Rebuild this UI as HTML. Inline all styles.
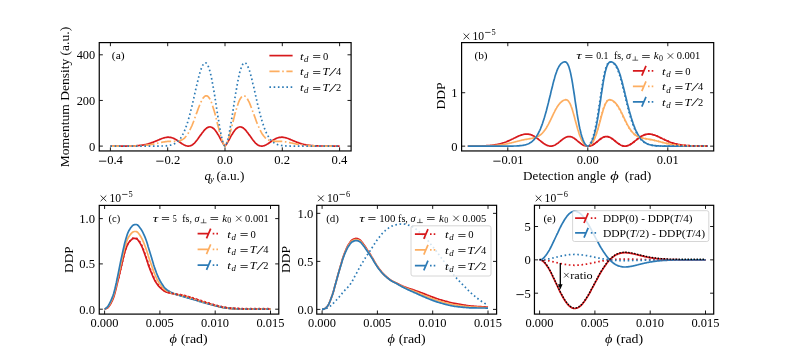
<!DOCTYPE html>
<html><head><meta charset="utf-8"><style>
html,body{margin:0;padding:0;background:#fff;width:793px;height:353px;overflow:hidden}
svg{display:block;will-change:transform}
text{font-family:"Liberation Serif",serif;fill:#000}
</style></head><body>
<svg width="793" height="353" viewBox="0 0 793 353">
<rect width="793" height="353" fill="#fff"/>
<clipPath id="ca"><rect x="99.25" y="42.6" width="251.85" height="108.35"/></clipPath>
<g clip-path="url(#ca)">
<path d="M110.4,146.1 L111.1,146.1 L111.8,146.1 L112.5,146.1 L113.3,146.1 L114.0,146.1 L114.7,146.1 L115.4,146.1 L116.1,146.1 L116.8,146.1 L117.6,146.1 L118.3,146.1 L119.0,146.1 L119.7,146.1 L120.4,146.1 L121.1,146.1 L121.9,146.1 L122.6,146.1 L123.3,146.1 L124.0,146.1 L124.7,146.1 L125.4,146.1 L126.2,146.1 L126.9,146.0 L127.6,146.0 L128.3,146.0 L129.0,146.0 L129.7,146.0 L130.5,146.0 L131.2,146.0 L131.9,145.9 L132.6,145.9 L133.3,145.9 L134.0,145.9 L134.8,145.8 L135.5,145.8 L136.2,145.8 L136.9,145.7 L137.6,145.6 L138.3,145.6 L139.0,145.5 L139.8,145.4 L140.5,145.4 L141.2,145.3 L141.9,145.2 L142.6,145.1 L143.3,145.0 L144.1,144.8 L144.8,144.7 L145.5,144.5 L146.2,144.4 L146.9,144.2 L147.6,144.0 L148.4,143.8 L149.1,143.6 L149.8,143.4 L150.5,143.1 L151.2,142.9 L151.9,142.6 L152.7,142.4 L153.4,142.1 L154.1,141.8 L154.8,141.5 L155.5,141.2 L156.2,140.9 L157.0,140.6 L157.7,140.3 L158.4,140.0 L159.1,139.7 L159.8,139.4 L160.5,139.1 L161.3,138.8 L162.0,138.5 L162.7,138.3 L163.4,138.0 L164.1,137.8 L164.8,137.7 L165.6,137.5 L166.3,137.4 L167.0,137.3 L167.7,137.2 L168.4,137.2 L169.1,137.3 L169.8,137.3 L170.6,137.4 L171.3,137.6 L172.0,137.8 L172.7,138.0 L173.4,138.3 L174.1,138.6 L174.9,139.0 L175.6,139.4 L176.3,139.8 L177.0,140.2 L177.7,140.7 L178.4,141.2 L179.2,141.7 L179.9,142.2 L180.6,142.7 L181.3,143.2 L182.0,143.7 L182.7,144.1 L183.5,144.6 L184.2,145.0 L184.9,145.3 L185.6,145.6 L186.3,145.8 L187.0,146.0 L187.8,146.1 L188.5,146.1 L189.2,146.0 L189.9,145.9 L190.6,145.7 L191.3,145.4 L192.1,145.0 L192.8,144.5 L193.5,143.9 L194.2,143.3 L194.9,142.6 L195.6,141.8 L196.3,140.9 L197.1,140.0 L197.8,139.1 L198.5,138.1 L199.2,137.1 L199.9,136.1 L200.6,135.1 L201.4,134.1 L202.1,133.1 L202.8,132.2 L203.5,131.2 L204.2,130.4 L204.9,129.6 L205.7,128.9 L206.4,128.3 L207.1,127.8 L207.8,127.4 L208.5,127.1 L209.2,127.0 L210.0,126.9 L210.7,127.0 L211.4,127.2 L212.1,127.5 L212.8,128.0 L213.5,128.5 L214.3,129.2 L215.0,130.0 L215.7,130.9 L216.4,131.9 L217.1,133.0 L217.8,134.2 L218.6,135.4 L219.3,136.7 L220.0,138.0 L220.7,139.3 L221.4,140.6 L222.1,141.9 L222.9,143.1 L223.6,144.3 L224.3,145.3 L225.0,146.1 L225.7,145.3 L226.4,144.3 L227.1,143.1 L227.9,141.9 L228.6,140.6 L229.3,139.3 L230.0,138.0 L230.7,136.7 L231.4,135.4 L232.2,134.2 L232.9,133.0 L233.6,131.9 L234.3,130.9 L235.0,130.0 L235.7,129.2 L236.5,128.5 L237.2,128.0 L237.9,127.5 L238.6,127.2 L239.3,127.0 L240.0,126.9 L240.8,127.0 L241.5,127.1 L242.2,127.4 L242.9,127.8 L243.6,128.3 L244.3,128.9 L245.1,129.6 L245.8,130.4 L246.5,131.2 L247.2,132.2 L247.9,133.1 L248.6,134.1 L249.4,135.1 L250.1,136.1 L250.8,137.1 L251.5,138.1 L252.2,139.1 L252.9,140.0 L253.7,140.9 L254.4,141.8 L255.1,142.6 L255.8,143.3 L256.5,143.9 L257.2,144.5 L257.9,145.0 L258.7,145.4 L259.4,145.7 L260.1,145.9 L260.8,146.0 L261.5,146.1 L262.2,146.1 L263.0,146.0 L263.7,145.8 L264.4,145.6 L265.1,145.3 L265.8,145.0 L266.5,144.6 L267.3,144.1 L268.0,143.7 L268.7,143.2 L269.4,142.7 L270.1,142.2 L270.8,141.7 L271.6,141.2 L272.3,140.7 L273.0,140.2 L273.7,139.8 L274.4,139.4 L275.1,139.0 L275.9,138.6 L276.6,138.3 L277.3,138.0 L278.0,137.8 L278.7,137.6 L279.4,137.4 L280.2,137.3 L280.9,137.3 L281.6,137.2 L282.3,137.2 L283.0,137.3 L283.7,137.4 L284.4,137.5 L285.2,137.7 L285.9,137.8 L286.6,138.0 L287.3,138.3 L288.0,138.5 L288.7,138.8 L289.5,139.1 L290.2,139.4 L290.9,139.7 L291.6,140.0 L292.3,140.3 L293.0,140.6 L293.8,140.9 L294.5,141.2 L295.2,141.5 L295.9,141.8 L296.6,142.1 L297.3,142.4 L298.1,142.6 L298.8,142.9 L299.5,143.1 L300.2,143.4 L300.9,143.6 L301.6,143.8 L302.4,144.0 L303.1,144.2 L303.8,144.4 L304.5,144.5 L305.2,144.7 L305.9,144.8 L306.7,145.0 L307.4,145.1 L308.1,145.2 L308.8,145.3 L309.5,145.4 L310.2,145.4 L311.0,145.5 L311.7,145.6 L312.4,145.6 L313.1,145.7 L313.8,145.8 L314.5,145.8 L315.2,145.8 L316.0,145.9 L316.7,145.9 L317.4,145.9 L318.1,145.9 L318.8,146.0 L319.5,146.0 L320.3,146.0 L321.0,146.0 L321.7,146.0 L322.4,146.0 L323.1,146.0 L323.8,146.1 L324.6,146.1 L325.3,146.1 L326.0,146.1 L326.7,146.1 L327.4,146.1 L328.1,146.1 L328.9,146.1 L329.6,146.1 L330.3,146.1 L331.0,146.1 L331.7,146.1 L332.4,146.1 L333.2,146.1 L333.9,146.1 L334.6,146.1 L335.3,146.1 L336.0,146.1 L336.7,146.1 L337.5,146.1 L338.2,146.1 L338.9,146.1 L339.6,146.1" fill="none" stroke="#d7191c" stroke-width="1.7" stroke-linejoin="round"/>
<path d="M110.4,146.1 L111.1,146.1 L111.8,146.1 L112.5,146.1 L113.3,146.1 L114.0,146.1 L114.7,146.1 L115.4,146.1 L116.1,146.1 L116.8,146.1 L117.6,146.1 L118.3,146.1 L119.0,146.1 L119.7,146.1 L120.4,146.1 L121.1,146.1 L121.9,146.1 L122.6,146.1 L123.3,146.1 L124.0,146.1 L124.7,146.1 L125.4,146.1 L126.2,146.1 L126.9,146.1 L127.6,146.1 L128.3,146.1 L129.0,146.1 L129.7,146.1 L130.5,146.0 L131.2,146.0 L131.9,146.0 L132.6,146.0 L133.3,146.0 L134.0,146.0 L134.8,146.0 L135.5,145.9 L136.2,145.9 L136.9,145.9 L137.6,145.9 L138.3,145.8 L139.0,145.8 L139.8,145.8 L140.5,145.7 L141.2,145.7 L141.9,145.6 L142.6,145.6 L143.3,145.5 L144.1,145.5 L144.8,145.4 L145.5,145.3 L146.2,145.2 L146.9,145.1 L147.6,145.1 L148.4,145.0 L149.1,144.9 L149.8,144.7 L150.5,144.6 L151.2,144.5 L151.9,144.4 L152.7,144.2 L153.4,144.1 L154.1,144.0 L154.8,143.8 L155.5,143.6 L156.2,143.5 L157.0,143.3 L157.7,143.2 L158.4,143.0 L159.1,142.9 L159.8,142.7 L160.5,142.6 L161.3,142.4 L162.0,142.3 L162.7,142.1 L163.4,142.0 L164.1,141.9 L164.8,141.8 L165.6,141.7 L166.3,141.6 L167.0,141.5 L167.7,141.4 L168.4,141.4 L169.1,141.3 L169.8,141.3 L170.6,141.3 L171.3,141.3 L172.0,141.3 L172.7,141.3 L173.4,141.3 L174.1,141.3 L174.9,141.3 L175.6,141.2 L176.3,141.2 L177.0,141.2 L177.7,141.1 L178.4,141.0 L179.2,140.9 L179.9,140.7 L180.6,140.4 L181.3,140.1 L182.0,139.8 L182.7,139.4 L183.5,138.9 L184.2,138.3 L184.9,137.6 L185.6,136.8 L186.3,136.0 L187.0,135.0 L187.8,133.9 L188.5,132.7 L189.2,131.4 L189.9,130.0 L190.6,128.5 L191.3,127.0 L192.1,125.3 L192.8,123.5 L193.5,121.7 L194.2,119.8 L194.9,117.8 L195.6,115.9 L196.3,113.9 L197.1,111.9 L197.8,109.9 L198.5,108.0 L199.2,106.2 L199.9,104.4 L200.6,102.7 L201.4,101.2 L202.1,99.8 L202.8,98.6 L203.5,97.6 L204.2,96.8 L204.9,96.2 L205.7,95.9 L206.4,95.8 L207.1,95.9 L207.8,96.3 L208.5,97.0 L209.2,98.0 L210.0,99.2 L210.7,100.6 L211.4,102.3 L212.1,104.2 L212.8,106.4 L213.5,108.7 L214.3,111.2 L215.0,113.8 L215.7,116.6 L216.4,119.4 L217.1,122.2 L217.8,125.1 L218.6,127.9 L219.3,130.7 L220.0,133.4 L220.7,136.0 L221.4,138.4 L222.1,140.6 L222.9,142.5 L223.6,144.1 L224.3,145.4 L225.0,146.1 L225.7,145.4 L226.4,144.1 L227.1,142.5 L227.9,140.6 L228.6,138.4 L229.3,136.0 L230.0,133.4 L230.7,130.7 L231.4,127.9 L232.2,125.1 L232.9,122.2 L233.6,119.4 L234.3,116.6 L235.0,113.8 L235.7,111.2 L236.5,108.7 L237.2,106.4 L237.9,104.2 L238.6,102.3 L239.3,100.6 L240.0,99.2 L240.8,98.0 L241.5,97.0 L242.2,96.3 L242.9,95.9 L243.6,95.8 L244.3,95.9 L245.1,96.2 L245.8,96.8 L246.5,97.6 L247.2,98.6 L247.9,99.8 L248.6,101.2 L249.4,102.7 L250.1,104.4 L250.8,106.2 L251.5,108.0 L252.2,109.9 L252.9,111.9 L253.7,113.9 L254.4,115.9 L255.1,117.8 L255.8,119.8 L256.5,121.7 L257.2,123.5 L257.9,125.3 L258.7,127.0 L259.4,128.5 L260.1,130.0 L260.8,131.4 L261.5,132.7 L262.2,133.9 L263.0,135.0 L263.7,136.0 L264.4,136.8 L265.1,137.6 L265.8,138.3 L266.5,138.9 L267.3,139.4 L268.0,139.8 L268.7,140.1 L269.4,140.4 L270.1,140.7 L270.8,140.9 L271.6,141.0 L272.3,141.1 L273.0,141.2 L273.7,141.2 L274.4,141.2 L275.1,141.3 L275.9,141.3 L276.6,141.3 L277.3,141.3 L278.0,141.3 L278.7,141.3 L279.4,141.3 L280.2,141.3 L280.9,141.3 L281.6,141.4 L282.3,141.4 L283.0,141.5 L283.7,141.6 L284.4,141.7 L285.2,141.8 L285.9,141.9 L286.6,142.0 L287.3,142.1 L288.0,142.3 L288.7,142.4 L289.5,142.6 L290.2,142.7 L290.9,142.9 L291.6,143.0 L292.3,143.2 L293.0,143.3 L293.8,143.5 L294.5,143.6 L295.2,143.8 L295.9,144.0 L296.6,144.1 L297.3,144.2 L298.1,144.4 L298.8,144.5 L299.5,144.6 L300.2,144.7 L300.9,144.9 L301.6,145.0 L302.4,145.1 L303.1,145.1 L303.8,145.2 L304.5,145.3 L305.2,145.4 L305.9,145.5 L306.7,145.5 L307.4,145.6 L308.1,145.6 L308.8,145.7 L309.5,145.7 L310.2,145.8 L311.0,145.8 L311.7,145.8 L312.4,145.9 L313.1,145.9 L313.8,145.9 L314.5,145.9 L315.2,146.0 L316.0,146.0 L316.7,146.0 L317.4,146.0 L318.1,146.0 L318.8,146.0 L319.5,146.0 L320.3,146.1 L321.0,146.1 L321.7,146.1 L322.4,146.1 L323.1,146.1 L323.8,146.1 L324.6,146.1 L325.3,146.1 L326.0,146.1 L326.7,146.1 L327.4,146.1 L328.1,146.1 L328.9,146.1 L329.6,146.1 L330.3,146.1 L331.0,146.1 L331.7,146.1 L332.4,146.1 L333.2,146.1 L333.9,146.1 L334.6,146.1 L335.3,146.1 L336.0,146.1 L336.7,146.1 L337.5,146.1 L338.2,146.1 L338.9,146.1 L339.6,146.1" fill="none" stroke="#fdae61" stroke-width="1.7" stroke-linejoin="round" stroke-dasharray="10.2 2.6 1.6 2.6"/>
<path d="M110.4,146.1 L111.1,146.1 L111.8,146.1 L112.5,146.1 L113.3,146.1 L114.0,146.1 L114.7,146.1 L115.4,146.1 L116.1,146.1 L116.8,146.1 L117.6,146.1 L118.3,146.1 L119.0,146.1 L119.7,146.1 L120.4,146.1 L121.1,146.1 L121.9,146.1 L122.6,146.1 L123.3,146.1 L124.0,146.1 L124.7,146.1 L125.4,146.1 L126.2,146.1 L126.9,146.1 L127.6,146.1 L128.3,146.1 L129.0,146.1 L129.7,146.1 L130.5,146.1 L131.2,146.1 L131.9,146.1 L132.6,146.1 L133.3,146.1 L134.0,146.1 L134.8,146.1 L135.5,146.1 L136.2,146.1 L136.9,146.1 L137.6,146.1 L138.3,146.1 L139.0,146.1 L139.8,146.1 L140.5,146.1 L141.2,146.1 L141.9,146.1 L142.6,146.1 L143.3,146.1 L144.1,146.1 L144.8,146.1 L145.5,146.1 L146.2,146.1 L146.9,146.1 L147.6,146.1 L148.4,146.1 L149.1,146.1 L149.8,146.1 L150.5,146.1 L151.2,146.1 L151.9,146.1 L152.7,146.1 L153.4,146.1 L154.1,146.1 L154.8,146.1 L155.5,146.1 L156.2,146.1 L157.0,146.1 L157.7,146.1 L158.4,146.1 L159.1,146.1 L159.8,146.1 L160.5,146.0 L161.3,146.0 L162.0,146.0 L162.7,146.0 L163.4,146.0 L164.1,145.9 L164.8,145.9 L165.6,145.8 L166.3,145.8 L167.0,145.7 L167.7,145.6 L168.4,145.5 L169.1,145.4 L169.8,145.3 L170.6,145.1 L171.3,145.0 L172.0,144.8 L172.7,144.5 L173.4,144.2 L174.1,143.9 L174.9,143.5 L175.6,143.1 L176.3,142.6 L177.0,142.1 L177.7,141.5 L178.4,140.8 L179.2,140.0 L179.9,139.1 L180.6,138.2 L181.3,137.1 L182.0,135.9 L182.7,134.6 L183.5,133.2 L184.2,131.6 L184.9,129.9 L185.6,128.1 L186.3,126.1 L187.0,124.0 L187.8,121.7 L188.5,119.4 L189.2,116.8 L189.9,114.2 L190.6,111.4 L191.3,108.6 L192.1,105.6 L192.8,102.5 L193.5,99.4 L194.2,96.3 L194.9,93.1 L195.6,90.0 L196.3,86.8 L197.1,83.8 L197.8,80.8 L198.5,77.9 L199.2,75.2 L199.9,72.7 L200.6,70.4 L201.4,68.3 L202.1,66.6 L202.8,65.1 L203.5,64.0 L204.2,63.2 L204.9,62.8 L205.7,62.8 L206.4,63.2 L207.1,64.0 L207.8,65.2 L208.5,66.9 L209.2,69.0 L210.0,71.4 L210.7,74.3 L211.4,77.5 L212.1,81.0 L212.8,84.8 L213.5,88.9 L214.3,93.2 L215.0,97.6 L215.7,102.2 L216.4,106.8 L217.1,111.4 L217.8,116.0 L218.6,120.5 L219.3,124.8 L220.0,128.9 L220.7,132.7 L221.4,136.2 L222.1,139.3 L222.9,141.9 L223.6,144.0 L224.3,145.5 L225.0,146.1 L225.7,145.5 L226.4,144.0 L227.1,141.9 L227.9,139.3 L228.6,136.2 L229.3,132.7 L230.0,128.9 L230.7,124.8 L231.4,120.5 L232.2,116.0 L232.9,111.4 L233.6,106.8 L234.3,102.2 L235.0,97.6 L235.7,93.2 L236.5,88.9 L237.2,84.8 L237.9,81.0 L238.6,77.5 L239.3,74.3 L240.0,71.4 L240.8,69.0 L241.5,66.9 L242.2,65.2 L242.9,64.0 L243.6,63.2 L244.3,62.8 L245.1,62.8 L245.8,63.2 L246.5,64.0 L247.2,65.1 L247.9,66.6 L248.6,68.3 L249.4,70.4 L250.1,72.7 L250.8,75.2 L251.5,77.9 L252.2,80.8 L252.9,83.8 L253.7,86.8 L254.4,90.0 L255.1,93.1 L255.8,96.3 L256.5,99.4 L257.2,102.5 L257.9,105.6 L258.7,108.6 L259.4,111.4 L260.1,114.2 L260.8,116.8 L261.5,119.4 L262.2,121.7 L263.0,124.0 L263.7,126.1 L264.4,128.1 L265.1,129.9 L265.8,131.6 L266.5,133.2 L267.3,134.6 L268.0,135.9 L268.7,137.1 L269.4,138.2 L270.1,139.1 L270.8,140.0 L271.6,140.8 L272.3,141.5 L273.0,142.1 L273.7,142.6 L274.4,143.1 L275.1,143.5 L275.9,143.9 L276.6,144.2 L277.3,144.5 L278.0,144.8 L278.7,145.0 L279.4,145.1 L280.2,145.3 L280.9,145.4 L281.6,145.5 L282.3,145.6 L283.0,145.7 L283.7,145.8 L284.4,145.8 L285.2,145.9 L285.9,145.9 L286.6,146.0 L287.3,146.0 L288.0,146.0 L288.7,146.0 L289.5,146.0 L290.2,146.1 L290.9,146.1 L291.6,146.1 L292.3,146.1 L293.0,146.1 L293.8,146.1 L294.5,146.1 L295.2,146.1 L295.9,146.1 L296.6,146.1 L297.3,146.1 L298.1,146.1 L298.8,146.1 L299.5,146.1 L300.2,146.1 L300.9,146.1 L301.6,146.1 L302.4,146.1 L303.1,146.1 L303.8,146.1 L304.5,146.1 L305.2,146.1 L305.9,146.1 L306.7,146.1 L307.4,146.1 L308.1,146.1 L308.8,146.1 L309.5,146.1 L310.2,146.1 L311.0,146.1 L311.7,146.1 L312.4,146.1 L313.1,146.1 L313.8,146.1 L314.5,146.1 L315.2,146.1 L316.0,146.1 L316.7,146.1 L317.4,146.1 L318.1,146.1 L318.8,146.1 L319.5,146.1 L320.3,146.1 L321.0,146.1 L321.7,146.1 L322.4,146.1 L323.1,146.1 L323.8,146.1 L324.6,146.1 L325.3,146.1 L326.0,146.1 L326.7,146.1 L327.4,146.1 L328.1,146.1 L328.9,146.1 L329.6,146.1 L330.3,146.1 L331.0,146.1 L331.7,146.1 L332.4,146.1 L333.2,146.1 L333.9,146.1 L334.6,146.1 L335.3,146.1 L336.0,146.1 L336.7,146.1 L337.5,146.1 L338.2,146.1 L338.9,146.1 L339.6,146.1" fill="none" stroke="#2c7bb6" stroke-width="1.7" stroke-linejoin="round" stroke-dasharray="1.6 2.65"/>
</g>
<rect x="99.25" y="42.6" width="251.85" height="108.35" fill="none" stroke="#000" stroke-width="1.2"/>
<path d="M110.40,150.95v-3.6M110.40,42.6v3.6M167.70,150.95v-3.6M167.70,42.6v3.6M225.00,150.95v-3.6M225.00,42.6v3.6M282.30,150.95v-3.6M282.30,42.6v3.6M339.60,150.95v-3.6M339.60,42.6v3.6M99.25,146.10h3.6M351.1,146.10h-3.6M99.25,100.45h3.6M351.1,100.45h-3.6M99.25,54.80h3.6M351.1,54.80h-3.6" stroke="#000" stroke-width="0.9" fill="none"/>
<rect x="98.96" y="160.72" width="7.32" height="0.854" fill="#000"/>
<text x="107.15" y="164.20" font-size="12.565999999999999" text-anchor="start" textLength="15.79" lengthAdjust="spacingAndGlyphs">0.4</text>
<rect x="156.26" y="160.72" width="7.32" height="0.854" fill="#000"/>
<text x="164.45" y="164.20" font-size="12.565999999999999" text-anchor="start" textLength="15.79" lengthAdjust="spacingAndGlyphs">0.2</text>
<text x="217.00" y="164.20" font-size="12.565999999999999" text-anchor="start" textLength="15.79" lengthAdjust="spacingAndGlyphs">0.0</text>
<text x="274.30" y="164.20" font-size="12.565999999999999" text-anchor="start" textLength="15.79" lengthAdjust="spacingAndGlyphs">0.2</text>
<text x="331.60" y="164.20" font-size="12.565999999999999" text-anchor="start" textLength="15.79" lengthAdjust="spacingAndGlyphs">0.4</text>
<text x="88.90" y="150.60" font-size="12.565999999999999" text-anchor="start" textLength="6.30" lengthAdjust="spacingAndGlyphs">0</text>
<text x="76.70" y="104.95" font-size="12.565999999999999" text-anchor="start" textLength="18.50" lengthAdjust="spacingAndGlyphs">200</text>
<text x="76.70" y="59.30" font-size="12.565999999999999" text-anchor="start" textLength="18.50" lengthAdjust="spacingAndGlyphs">400</text>
<text x="204.50" y="180.20" font-size="12.8" text-anchor="start" font-style="italic">q</text>
<text x="210.00" y="182.40" font-size="9" text-anchor="start" font-style="italic">y</text>
<text x="216.40" y="180.20" font-size="12.8" text-anchor="start" textLength="27.90" lengthAdjust="spacingAndGlyphs">(a.u.)</text>
<text x="69.50" y="97.10" font-size="12.8" text-anchor="middle" textLength="140.50" lengthAdjust="spacingAndGlyphs" transform="rotate(-90 69.5 97.1)">Momentum Density (a.u.)</text>
<text x="111.80" y="58.50" font-size="10.8" text-anchor="start" textLength="12.80" lengthAdjust="spacingAndGlyphs">(a)</text>
<path d="M269.4,55.60H292.6" stroke="#d7191c" stroke-width="1.7"/>
<path d="M269.4,71.40H292.6" stroke="#fdae61" stroke-width="1.7" stroke-dasharray="10.2 2.6 1.6 2.6"/>
<path d="M269.4,87.20H292.6" stroke="#2c7bb6" stroke-width="1.7" stroke-dasharray="1.6 2.65"/>
<text x="299.90" y="59.60" font-size="11.2" text-anchor="start" font-style="italic" textLength="3.60" lengthAdjust="spacingAndGlyphs">t</text>
<text x="304.00" y="61.70" font-size="7.2" text-anchor="start" font-style="italic" textLength="4.40" lengthAdjust="spacingAndGlyphs">d</text>
<path d="M313.10,55.50h7.2M313.10,57.50h7.2" stroke="#000" stroke-width="0.7"/>
<text x="323.10" y="59.60" font-size="11.2" text-anchor="start" textLength="5.30" lengthAdjust="spacingAndGlyphs">0</text>
<text x="299.90" y="75.40" font-size="11.2" text-anchor="start" font-style="italic" textLength="3.60" lengthAdjust="spacingAndGlyphs">t</text>
<text x="304.00" y="77.50" font-size="7.2" text-anchor="start" font-style="italic" textLength="4.40" lengthAdjust="spacingAndGlyphs">d</text>
<path d="M313.10,71.50h7.2M313.10,73.50h7.2" stroke="#000" stroke-width="0.7"/>
<text x="322.40" y="75.40" font-size="11.2" text-anchor="start" font-style="italic" textLength="6.80" lengthAdjust="spacingAndGlyphs">T</text>
<text x="329.80" y="75.80" font-size="13.0" text-anchor="start" font-style="italic" textLength="5.40" lengthAdjust="spacingAndGlyphs">/</text>
<text x="335.90" y="75.40" font-size="11.2" text-anchor="start" textLength="5.20" lengthAdjust="spacingAndGlyphs">4</text>
<text x="299.90" y="91.20" font-size="11.2" text-anchor="start" font-style="italic" textLength="3.60" lengthAdjust="spacingAndGlyphs">t</text>
<text x="304.00" y="93.30" font-size="7.2" text-anchor="start" font-style="italic" textLength="4.40" lengthAdjust="spacingAndGlyphs">d</text>
<path d="M313.10,87.50h7.2M313.10,89.50h7.2" stroke="#000" stroke-width="0.7"/>
<text x="322.40" y="91.20" font-size="11.2" text-anchor="start" font-style="italic" textLength="6.80" lengthAdjust="spacingAndGlyphs">T</text>
<text x="329.80" y="91.60" font-size="13.0" text-anchor="start" font-style="italic" textLength="5.40" lengthAdjust="spacingAndGlyphs">/</text>
<text x="335.90" y="91.20" font-size="11.2" text-anchor="start" textLength="5.20" lengthAdjust="spacingAndGlyphs">2</text>
<clipPath id="cb"><rect x="461.6" y="42.6" width="252.10" height="108.35"/></clipPath>
<g clip-path="url(#cb)">
<path d="M467.8,146.1 L468.5,146.1 L469.1,146.1 L469.8,146.1 L470.5,146.1 L471.1,146.1 L471.8,146.1 L472.5,146.1 L473.1,146.1 L473.8,146.1 L474.5,146.1 L475.1,146.1 L475.8,146.1 L476.5,146.1 L477.1,146.1 L477.8,146.0 L478.5,146.0 L479.1,146.0 L479.8,146.0 L480.5,146.0 L481.1,146.0 L481.8,146.0 L482.5,145.9 L483.1,145.9 L483.8,145.9 L484.5,145.9 L485.1,145.8 L485.8,145.8 L486.5,145.7 L487.1,145.7 L487.8,145.7 L488.5,145.6 L489.1,145.6 L489.8,145.5 L490.5,145.4 L491.1,145.4 L491.8,145.3 L492.5,145.2 L493.1,145.1 L493.8,145.0 L494.5,144.9 L495.1,144.8 L495.8,144.7 L496.5,144.6 L497.1,144.5 L497.8,144.3 L498.5,144.2 L499.1,144.0 L499.8,143.9 L500.5,143.7 L501.1,143.5 L501.8,143.3 L502.5,143.1 L503.1,142.9 L503.8,142.7 L504.5,142.5 L505.1,142.2 L505.8,142.0 L506.5,141.7 L507.1,141.4 L507.8,141.1 L508.5,140.9 L509.1,140.6 L509.8,140.3 L510.5,140.0 L511.1,139.6 L511.8,139.3 L512.5,139.0 L513.1,138.7 L513.8,138.3 L514.5,138.0 L515.1,137.7 L515.8,137.4 L516.5,137.0 L517.1,136.7 L517.8,136.4 L518.5,136.1 L519.1,135.8 L519.8,135.6 L520.5,135.3 L521.1,135.1 L521.8,134.9 L522.5,134.7 L523.1,134.5 L523.8,134.3 L524.5,134.2 L525.1,134.1 L525.8,134.1 L526.5,134.0 L527.1,134.1 L527.8,134.1 L528.5,134.2 L529.1,134.3 L529.8,134.4 L530.5,134.6 L531.1,134.8 L531.8,135.1 L532.5,135.4 L533.1,135.7 L533.8,136.1 L534.5,136.5 L535.1,136.9 L535.8,137.3 L536.5,137.8 L537.1,138.3 L537.8,138.8 L538.5,139.3 L539.1,139.8 L539.8,140.4 L540.5,140.9 L541.1,141.5 L541.8,142.0 L542.5,142.5 L543.1,143.0 L543.8,143.5 L544.5,143.9 L545.1,144.4 L545.8,144.7 L546.5,145.1 L547.1,145.4 L547.8,145.6 L548.5,145.8 L549.1,146.0 L549.8,146.1 L550.5,146.1 L551.1,146.1 L551.8,146.1 L552.5,145.9 L553.1,145.8 L553.8,145.5 L554.5,145.2 L555.1,144.9 L555.8,144.5 L556.5,144.1 L557.1,143.6 L557.8,143.2 L558.5,142.7 L559.1,142.1 L559.8,141.6 L560.5,141.0 L561.1,140.5 L561.8,140.0 L562.5,139.4 L563.1,138.9 L563.8,138.5 L564.5,138.1 L565.1,137.7 L565.8,137.3 L566.5,137.1 L567.1,136.8 L567.8,136.7 L568.5,136.6 L569.1,136.5 L569.8,136.6 L570.5,136.7 L571.1,136.8 L571.8,137.0 L572.5,137.3 L573.1,137.7 L573.8,138.1 L574.5,138.5 L575.1,139.0 L575.8,139.5 L576.5,140.0 L577.1,140.6 L577.8,141.2 L578.5,141.7 L579.1,142.3 L579.8,142.8 L580.5,143.3 L581.1,143.8 L581.8,144.3 L582.5,144.7 L583.1,145.1 L583.8,145.4 L584.5,145.6 L585.1,145.8 L585.8,146.0 L586.5,146.1 L587.1,146.1 L587.8,146.2 L588.5,146.1 L589.1,146.1 L589.8,146.0 L590.5,145.8 L591.1,145.6 L591.8,145.4 L592.5,145.1 L593.1,144.7 L593.8,144.3 L594.5,143.8 L595.1,143.3 L595.8,142.8 L596.5,142.3 L597.1,141.7 L597.8,141.2 L598.5,140.6 L599.1,140.0 L599.8,139.5 L600.5,139.0 L601.1,138.5 L601.8,138.1 L602.5,137.7 L603.1,137.3 L603.8,137.0 L604.5,136.8 L605.1,136.7 L605.8,136.6 L606.5,136.5 L607.1,136.6 L607.8,136.7 L608.5,136.8 L609.1,137.1 L609.8,137.3 L610.5,137.7 L611.1,138.1 L611.8,138.5 L612.5,138.9 L613.1,139.4 L613.8,140.0 L614.5,140.5 L615.1,141.0 L615.8,141.6 L616.5,142.1 L617.1,142.7 L617.8,143.2 L618.5,143.6 L619.1,144.1 L619.8,144.5 L620.5,144.9 L621.1,145.2 L621.8,145.5 L622.5,145.8 L623.1,145.9 L623.8,146.1 L624.5,146.1 L625.1,146.1 L625.8,146.1 L626.5,146.0 L627.1,145.8 L627.8,145.6 L628.5,145.4 L629.1,145.1 L629.8,144.7 L630.5,144.4 L631.1,143.9 L631.8,143.5 L632.5,143.0 L633.1,142.5 L633.8,142.0 L634.5,141.5 L635.1,140.9 L635.8,140.4 L636.5,139.8 L637.1,139.3 L637.8,138.8 L638.5,138.3 L639.1,137.8 L639.8,137.3 L640.5,136.9 L641.1,136.5 L641.8,136.1 L642.5,135.7 L643.1,135.4 L643.8,135.1 L644.5,134.8 L645.1,134.6 L645.8,134.4 L646.5,134.3 L647.1,134.2 L647.8,134.1 L648.5,134.1 L649.1,134.0 L649.8,134.1 L650.5,134.1 L651.1,134.2 L651.8,134.3 L652.5,134.5 L653.1,134.7 L653.8,134.9 L654.5,135.1 L655.1,135.3 L655.8,135.6 L656.5,135.8 L657.1,136.1 L657.8,136.4 L658.5,136.7 L659.1,137.0 L659.8,137.4 L660.5,137.7 L661.1,138.0 L661.8,138.3 L662.5,138.7 L663.1,139.0 L663.8,139.3 L664.5,139.6 L665.1,140.0 L665.8,140.3 L666.5,140.6 L667.1,140.9 L667.8,141.1 L668.5,141.4 L669.1,141.7 L669.8,142.0 L670.5,142.2 L671.1,142.5 L671.8,142.7 L672.5,142.9 L673.1,143.1 L673.8,143.3 L674.5,143.5 L675.1,143.7 L675.8,143.9 L676.5,144.0 L677.1,144.2 L677.8,144.3 L678.5,144.5 L679.1,144.6 L679.8,144.7 L680.5,144.8 L681.1,144.9 L681.8,145.0 L682.5,145.1 L683.1,145.2 L683.8,145.3 L684.5,145.4 L685.1,145.4 L685.8,145.5 L686.5,145.6 L687.1,145.6 L687.8,145.7 L688.5,145.7 L689.1,145.7 L689.8,145.8 L690.5,145.8 L691.1,145.9 L691.8,145.9 L692.5,145.9 L693.1,145.9 L693.8,146.0 L694.5,146.0 L695.1,146.0 L695.8,146.0 L696.5,146.0 L697.1,146.0 L697.8,146.0 L698.5,146.1 L699.1,146.1 L699.8,146.1 L700.5,146.1 L701.1,146.1 L701.8,146.1 L702.5,146.1 L703.1,146.1 L703.8,146.1 L704.5,146.1 L705.1,146.1 L705.8,146.1 L706.5,146.1 L707.1,146.1 L707.8,146.1" fill="none" stroke="#d7191c" stroke-width="1.7" stroke-linejoin="round"/>
<path d="M467.8,146.1 L468.5,146.1 L469.1,146.1 L469.8,146.1 L470.5,146.1 L471.1,146.1 L471.8,146.1 L472.5,146.1 L473.1,146.1 L473.8,146.1 L474.5,146.1 L475.1,146.1 L475.8,146.1 L476.5,146.1 L477.1,146.1 L477.8,146.1 L478.5,146.1 L479.1,146.1 L479.8,146.1 L480.5,146.1 L481.1,146.1 L481.8,146.1 L482.5,146.0 L483.1,146.0 L483.8,146.0 L484.5,146.0 L485.1,146.0 L485.8,146.0 L486.5,145.9 L487.1,145.9 L487.8,145.9 L488.5,145.9 L489.1,145.9 L489.8,145.8 L490.5,145.8 L491.1,145.8 L491.8,145.7 L492.5,145.7 L493.1,145.6 L493.8,145.6 L494.5,145.5 L495.1,145.5 L495.8,145.4 L496.5,145.4 L497.1,145.3 L497.8,145.2 L498.5,145.2 L499.1,145.1 L499.8,145.0 L500.5,144.9 L501.1,144.8 L501.8,144.7 L502.5,144.6 L503.1,144.5 L503.8,144.4 L504.5,144.3 L505.1,144.2 L505.8,144.0 L506.5,143.9 L507.1,143.8 L507.8,143.6 L508.5,143.5 L509.1,143.3 L509.8,143.2 L510.5,143.0 L511.1,142.9 L511.8,142.7 L512.5,142.5 L513.1,142.4 L513.8,142.2 L514.5,142.0 L515.1,141.8 L515.8,141.7 L516.5,141.5 L517.1,141.3 L517.8,141.2 L518.5,141.0 L519.1,140.8 L519.8,140.7 L520.5,140.5 L521.1,140.3 L521.8,140.2 L522.5,140.0 L523.1,139.9 L523.8,139.8 L524.5,139.6 L525.1,139.5 L525.8,139.4 L526.5,139.3 L527.1,139.2 L527.8,139.0 L528.5,138.9 L529.1,138.8 L529.8,138.7 L530.5,138.6 L531.1,138.5 L531.8,138.4 L532.5,138.2 L533.1,138.1 L533.8,137.9 L534.5,137.8 L535.1,137.6 L535.8,137.4 L536.5,137.1 L537.1,136.8 L537.8,136.5 L538.5,136.2 L539.1,135.8 L539.8,135.3 L540.5,134.8 L541.1,134.3 L541.8,133.7 L542.5,133.0 L543.1,132.3 L543.8,131.5 L544.5,130.6 L545.1,129.7 L545.8,128.7 L546.5,127.7 L547.1,126.5 L547.8,125.4 L548.5,124.1 L549.1,122.9 L549.8,121.5 L550.5,120.2 L551.1,118.8 L551.8,117.4 L552.5,116.0 L553.1,114.6 L553.8,113.2 L554.5,111.8 L555.1,110.5 L555.8,109.3 L556.5,108.1 L557.1,107.0 L557.8,106.0 L558.5,105.0 L559.1,104.2 L559.8,103.4 L560.5,102.7 L561.1,102.1 L561.8,101.5 L562.5,101.0 L563.1,100.6 L563.8,100.2 L564.5,100.0 L565.1,99.8 L565.8,99.7 L566.5,99.8 L567.1,100.0 L567.8,100.5 L568.5,101.2 L569.1,102.1 L569.8,103.2 L570.5,104.6 L571.1,106.3 L571.8,108.1 L572.5,110.2 L573.1,112.4 L573.8,114.8 L574.5,117.2 L575.1,119.7 L575.8,122.3 L576.5,124.7 L577.1,127.1 L577.8,129.5 L578.5,131.6 L579.1,133.7 L579.8,135.6 L580.5,137.3 L581.1,138.9 L581.8,140.3 L582.5,141.5 L583.1,142.6 L583.8,143.5 L584.5,144.3 L585.1,144.9 L585.8,145.4 L586.5,145.8 L587.1,146.1 L587.8,146.2 L588.5,146.1 L589.1,145.8 L589.8,145.4 L590.5,144.9 L591.1,144.3 L591.8,143.5 L592.5,142.6 L593.1,141.5 L593.8,140.3 L594.5,138.9 L595.1,137.3 L595.8,135.6 L596.5,133.7 L597.1,131.6 L597.8,129.5 L598.5,127.1 L599.1,124.7 L599.8,122.3 L600.5,119.7 L601.1,117.2 L601.8,114.8 L602.5,112.4 L603.1,110.2 L603.8,108.1 L604.5,106.3 L605.1,104.6 L605.8,103.2 L606.5,102.1 L607.1,101.2 L607.8,100.5 L608.5,100.0 L609.1,99.8 L609.8,99.7 L610.5,99.8 L611.1,100.0 L611.8,100.2 L612.5,100.6 L613.1,101.0 L613.8,101.5 L614.5,102.1 L615.1,102.7 L615.8,103.4 L616.5,104.2 L617.1,105.0 L617.8,106.0 L618.5,107.0 L619.1,108.1 L619.8,109.3 L620.5,110.5 L621.1,111.8 L621.8,113.2 L622.5,114.6 L623.1,116.0 L623.8,117.4 L624.5,118.8 L625.1,120.2 L625.8,121.5 L626.5,122.9 L627.1,124.1 L627.8,125.4 L628.5,126.5 L629.1,127.7 L629.8,128.7 L630.5,129.7 L631.1,130.6 L631.8,131.5 L632.5,132.3 L633.1,133.0 L633.8,133.7 L634.5,134.3 L635.1,134.8 L635.8,135.3 L636.5,135.8 L637.1,136.2 L637.8,136.5 L638.5,136.8 L639.1,137.1 L639.8,137.4 L640.5,137.6 L641.1,137.8 L641.8,137.9 L642.5,138.1 L643.1,138.2 L643.8,138.4 L644.5,138.5 L645.1,138.6 L645.8,138.7 L646.5,138.8 L647.1,138.9 L647.8,139.0 L648.5,139.2 L649.1,139.3 L649.8,139.4 L650.5,139.5 L651.1,139.6 L651.8,139.8 L652.5,139.9 L653.1,140.0 L653.8,140.2 L654.5,140.3 L655.1,140.5 L655.8,140.7 L656.5,140.8 L657.1,141.0 L657.8,141.2 L658.5,141.3 L659.1,141.5 L659.8,141.7 L660.5,141.8 L661.1,142.0 L661.8,142.2 L662.5,142.4 L663.1,142.5 L663.8,142.7 L664.5,142.9 L665.1,143.0 L665.8,143.2 L666.5,143.3 L667.1,143.5 L667.8,143.6 L668.5,143.8 L669.1,143.9 L669.8,144.0 L670.5,144.2 L671.1,144.3 L671.8,144.4 L672.5,144.5 L673.1,144.6 L673.8,144.7 L674.5,144.8 L675.1,144.9 L675.8,145.0 L676.5,145.1 L677.1,145.2 L677.8,145.2 L678.5,145.3 L679.1,145.4 L679.8,145.4 L680.5,145.5 L681.1,145.5 L681.8,145.6 L682.5,145.6 L683.1,145.7 L683.8,145.7 L684.5,145.8 L685.1,145.8 L685.8,145.8 L686.5,145.9 L687.1,145.9 L687.8,145.9 L688.5,145.9 L689.1,145.9 L689.8,146.0 L690.5,146.0 L691.1,146.0 L691.8,146.0 L692.5,146.0 L693.1,146.0 L693.8,146.1 L694.5,146.1 L695.1,146.1 L695.8,146.1 L696.5,146.1 L697.1,146.1 L697.8,146.1 L698.5,146.1 L699.1,146.1 L699.8,146.1 L700.5,146.1 L701.1,146.1 L701.8,146.1 L702.5,146.1 L703.1,146.1 L703.8,146.1 L704.5,146.1 L705.1,146.1 L705.8,146.1 L706.5,146.1 L707.1,146.1 L707.8,146.1" fill="none" stroke="#fdae61" stroke-width="1.7" stroke-linejoin="round"/>
<path d="M467.8,146.1 L468.5,146.1 L469.1,146.1 L469.8,146.1 L470.5,146.1 L471.1,146.1 L471.8,146.1 L472.5,146.1 L473.1,146.1 L473.8,146.1 L474.5,146.1 L475.1,146.1 L475.8,146.1 L476.5,146.1 L477.1,146.1 L477.8,146.1 L478.5,146.1 L479.1,146.1 L479.8,146.1 L480.5,146.1 L481.1,146.1 L481.8,146.1 L482.5,146.1 L483.1,146.1 L483.8,146.1 L484.5,146.1 L485.1,146.1 L485.8,146.1 L486.5,146.1 L487.1,146.1 L487.8,146.1 L488.5,146.1 L489.1,146.1 L489.8,146.1 L490.5,146.1 L491.1,146.1 L491.8,146.1 L492.5,146.1 L493.1,146.1 L493.8,146.1 L494.5,146.1 L495.1,146.1 L495.8,146.1 L496.5,146.1 L497.1,146.1 L497.8,146.1 L498.5,146.1 L499.1,146.1 L499.8,146.1 L500.5,146.1 L501.1,146.1 L501.8,146.1 L502.5,146.1 L503.1,146.1 L503.8,146.1 L504.5,146.1 L505.1,146.1 L505.8,146.1 L506.5,146.1 L507.1,146.1 L507.8,146.1 L508.5,146.1 L509.1,146.1 L509.8,146.1 L510.5,146.1 L511.1,146.1 L511.8,146.1 L512.5,146.1 L513.1,146.1 L513.8,146.0 L514.5,146.0 L515.1,146.0 L515.8,146.0 L516.5,146.0 L517.1,145.9 L517.8,145.9 L518.5,145.8 L519.1,145.8 L519.8,145.7 L520.5,145.7 L521.1,145.6 L521.8,145.5 L522.5,145.4 L523.1,145.3 L523.8,145.2 L524.5,145.0 L525.1,144.9 L525.8,144.7 L526.5,144.5 L527.1,144.2 L527.8,144.0 L528.5,143.7 L529.1,143.4 L529.8,143.0 L530.5,142.6 L531.1,142.2 L531.8,141.7 L532.5,141.1 L533.1,140.5 L533.8,139.8 L534.5,139.1 L535.1,138.3 L535.8,137.4 L536.5,136.4 L537.1,135.4 L537.8,134.3 L538.5,133.0 L539.1,131.7 L539.8,130.3 L540.5,128.8 L541.1,127.1 L541.8,125.4 L542.5,123.5 L543.1,121.6 L543.8,119.5 L544.5,117.3 L545.1,115.1 L545.8,112.7 L546.5,110.2 L547.1,107.7 L547.8,105.1 L548.5,102.4 L549.1,99.7 L549.8,97.0 L550.5,94.2 L551.1,91.4 L551.8,88.7 L552.5,86.0 L553.1,83.4 L553.8,80.8 L554.5,78.4 L555.1,76.1 L555.8,74.0 L556.5,72.1 L557.1,70.3 L557.8,68.7 L558.5,67.4 L559.1,66.2 L559.8,65.2 L560.5,64.3 L561.1,63.6 L561.8,63.1 L562.5,62.6 L563.1,62.2 L563.8,62.0 L564.5,61.8 L565.1,61.9 L565.8,62.1 L566.5,62.5 L567.1,63.3 L567.8,64.3 L568.5,65.8 L569.1,67.6 L569.8,69.9 L570.5,72.6 L571.1,75.7 L571.8,79.2 L572.5,83.1 L573.1,87.2 L573.8,91.5 L574.5,96.0 L575.1,100.5 L575.8,105.0 L576.5,109.4 L577.1,113.7 L577.8,117.8 L578.5,121.6 L579.1,125.1 L579.8,128.4 L580.5,131.3 L581.1,133.9 L581.8,136.3 L582.5,138.3 L583.1,140.1 L583.8,141.7 L584.5,143.0 L585.1,144.0 L585.8,144.9 L586.5,145.6 L587.1,146.0 L587.8,146.2 L588.5,146.0 L589.1,145.6 L589.8,144.9 L590.5,144.0 L591.1,143.0 L591.8,141.7 L592.5,140.1 L593.1,138.3 L593.8,136.3 L594.5,133.9 L595.1,131.3 L595.8,128.4 L596.5,125.1 L597.1,121.6 L597.8,117.8 L598.5,113.7 L599.1,109.4 L599.8,105.0 L600.5,100.5 L601.1,96.0 L601.8,91.5 L602.5,87.2 L603.1,83.1 L603.8,79.2 L604.5,75.7 L605.1,72.6 L605.8,69.9 L606.5,67.6 L607.1,65.8 L607.8,64.3 L608.5,63.3 L609.1,62.5 L609.8,62.1 L610.5,61.9 L611.1,61.8 L611.8,62.0 L612.5,62.2 L613.1,62.6 L613.8,63.1 L614.5,63.6 L615.1,64.3 L615.8,65.2 L616.5,66.2 L617.1,67.4 L617.8,68.7 L618.5,70.3 L619.1,72.1 L619.8,74.0 L620.5,76.1 L621.1,78.4 L621.8,80.8 L622.5,83.4 L623.1,86.0 L623.8,88.7 L624.5,91.4 L625.1,94.2 L625.8,97.0 L626.5,99.7 L627.1,102.4 L627.8,105.1 L628.5,107.7 L629.1,110.2 L629.8,112.7 L630.5,115.1 L631.1,117.3 L631.8,119.5 L632.5,121.6 L633.1,123.5 L633.8,125.4 L634.5,127.1 L635.1,128.8 L635.8,130.3 L636.5,131.7 L637.1,133.0 L637.8,134.3 L638.5,135.4 L639.1,136.4 L639.8,137.4 L640.5,138.3 L641.1,139.1 L641.8,139.8 L642.5,140.5 L643.1,141.1 L643.8,141.7 L644.5,142.2 L645.1,142.6 L645.8,143.0 L646.5,143.4 L647.1,143.7 L647.8,144.0 L648.5,144.2 L649.1,144.5 L649.8,144.7 L650.5,144.9 L651.1,145.0 L651.8,145.2 L652.5,145.3 L653.1,145.4 L653.8,145.5 L654.5,145.6 L655.1,145.7 L655.8,145.7 L656.5,145.8 L657.1,145.8 L657.8,145.9 L658.5,145.9 L659.1,146.0 L659.8,146.0 L660.5,146.0 L661.1,146.0 L661.8,146.0 L662.5,146.1 L663.1,146.1 L663.8,146.1 L664.5,146.1 L665.1,146.1 L665.8,146.1 L666.5,146.1 L667.1,146.1 L667.8,146.1 L668.5,146.1 L669.1,146.1 L669.8,146.1 L670.5,146.1 L671.1,146.1 L671.8,146.1 L672.5,146.1 L673.1,146.1 L673.8,146.1 L674.5,146.1 L675.1,146.1 L675.8,146.1 L676.5,146.1 L677.1,146.1 L677.8,146.1 L678.5,146.1 L679.1,146.1 L679.8,146.1 L680.5,146.1 L681.1,146.1 L681.8,146.1 L682.5,146.1 L683.1,146.1 L683.8,146.1 L684.5,146.1 L685.1,146.1 L685.8,146.1 L686.5,146.1 L687.1,146.1 L687.8,146.1 L688.5,146.1 L689.1,146.1 L689.8,146.1 L690.5,146.1 L691.1,146.1 L691.8,146.1 L692.5,146.1 L693.1,146.1 L693.8,146.1 L694.5,146.1 L695.1,146.1 L695.8,146.1 L696.5,146.1 L697.1,146.1 L697.8,146.1 L698.5,146.1 L699.1,146.1 L699.8,146.1 L700.5,146.1 L701.1,146.1 L701.8,146.1 L702.5,146.1 L703.1,146.1 L703.8,146.1 L704.5,146.1 L705.1,146.1 L705.8,146.1 L706.5,146.1 L707.1,146.1 L707.8,146.1" fill="none" stroke="#2c7bb6" stroke-width="1.7" stroke-linejoin="round"/>
<path d="M587.2,146.2 L587.9,146.0 L588.5,145.6 L589.2,144.9 L589.9,144.0 L590.5,143.0 L591.2,141.7 L591.9,140.1 L592.5,138.3 L593.2,136.3 L593.9,133.9 L594.5,131.3 L595.2,128.4 L595.9,125.1 L596.5,121.6 L597.2,117.8 L597.9,113.7 L598.5,109.4 L599.2,105.0 L599.9,100.5 L600.5,96.0 L601.2,91.5 L601.9,87.2 L602.5,83.1 L603.2,79.2 L603.9,75.7 L604.5,72.6 L605.2,69.9 L605.9,67.6 L606.5,65.8 L607.2,64.3 L607.9,63.3 L608.5,62.5 L609.2,62.1 L609.9,61.9 L610.5,61.8 L611.2,62.0 L611.9,62.2 L612.5,62.6 L613.2,63.1 L613.9,63.6 L614.5,64.3 L615.2,65.2 L615.9,66.2 L616.5,67.4 L617.2,68.7 L617.9,70.3 L618.5,72.1 L619.2,74.0 L619.9,76.1 L620.5,78.4 L621.2,80.8 L621.9,83.4 L622.5,86.0 L623.2,88.7 L623.9,91.4 L624.5,94.2 L625.2,97.0 L625.9,99.7 L626.5,102.4 L627.2,105.1 L627.9,107.7 L628.5,110.2 L629.2,112.7 L629.9,115.1 L630.5,117.3 L631.2,119.5 L631.9,121.6 L632.5,123.5 L633.2,125.4 L633.9,127.1 L634.5,128.8 L635.2,130.3 L635.9,131.7 L636.5,133.0 L637.2,134.3 L637.9,135.4 L638.5,136.4 L639.2,137.4 L639.9,138.3 L640.5,139.1 L641.2,139.8 L641.9,140.5 L642.5,141.1 L643.2,141.7 L643.9,142.2 L644.5,142.6 L645.2,143.0 L645.9,143.4 L646.5,143.7 L647.2,144.0 L647.9,144.2 L648.5,144.5 L649.2,144.7 L649.9,144.9 L650.5,145.0 L651.2,145.2 L651.9,145.3 L652.5,145.4 L653.2,145.5 L653.9,145.6 L654.5,145.7 L655.2,145.7 L655.9,145.8 L656.5,145.8 L657.2,145.9 L657.9,145.9 L658.5,146.0 L659.2,146.0 L659.9,146.0 L660.5,146.0 L661.2,146.0 L661.9,146.1 L662.5,146.1 L663.2,146.1 L663.9,146.1 L664.5,146.1 L665.2,146.1 L665.9,146.1 L666.5,146.1 L667.2,146.1 L667.9,146.1 L668.5,146.1 L669.2,146.1 L669.9,146.1 L670.5,146.1 L671.2,146.1 L671.9,146.1 L672.5,146.1 L673.2,146.1 L673.9,146.1 L674.5,146.1 L675.2,146.1 L675.9,146.1 L676.5,146.1 L677.2,146.1 L677.9,146.1 L678.5,146.1 L679.2,146.1 L679.9,146.1 L680.5,146.1 L681.2,146.1 L681.9,146.1 L682.5,146.1 L683.2,146.1 L683.9,146.1 L684.5,146.1 L685.2,146.1 L685.9,146.1 L686.5,146.1 L687.2,146.1 L687.9,146.1 L688.5,146.1 L689.2,146.1 L689.9,146.1 L690.5,146.1 L691.2,146.1 L691.9,146.1 L692.5,146.1 L693.2,146.1 L693.9,146.1 L694.5,146.1 L695.2,146.1 L695.9,146.1 L696.5,146.1 L697.2,146.1 L697.9,146.1 L698.5,146.1 L699.2,146.1 L699.9,146.1 L700.5,146.1 L701.2,146.1 L701.9,146.1 L702.5,146.1 L703.2,146.1 L703.9,146.1 L704.5,146.1 L705.2,146.1 L705.9,146.1 L706.5,146.1 L707.2,146.1" fill="none" stroke="#2c7bb6" stroke-width="1.7" stroke-linejoin="round" stroke-dasharray="1.6 2.65"/>
<path d="M587.5,146.2 L588.2,146.1 L588.8,145.8 L589.5,145.4 L590.2,144.9 L590.8,144.3 L591.5,143.5 L592.2,142.6 L592.8,141.5 L593.5,140.3 L594.2,138.9 L594.8,137.3 L595.5,135.6 L596.2,133.7 L596.8,131.6 L597.5,129.5 L598.2,127.1 L598.8,124.7 L599.5,122.3 L600.2,119.7 L600.8,117.2 L601.5,114.8 L602.2,112.4 L602.8,110.2 L603.5,108.1 L604.2,106.3 L604.8,104.6 L605.5,103.2 L606.2,102.1 L606.8,101.2 L607.5,100.5 L608.2,100.0 L608.8,99.8 L609.5,99.7 L610.2,99.8 L610.8,100.0 L611.5,100.2 L612.2,100.6 L612.8,101.0 L613.5,101.5 L614.2,102.1 L614.8,102.7 L615.5,103.4 L616.2,104.2 L616.8,105.0 L617.5,106.0 L618.2,107.0 L618.8,108.1 L619.5,109.3 L620.2,110.5 L620.8,111.8 L621.5,113.2 L622.2,114.6 L622.8,116.0 L623.5,117.4 L624.2,118.8 L624.8,120.2 L625.5,121.5 L626.2,122.9 L626.8,124.1 L627.5,125.4 L628.2,126.5 L628.8,127.7 L629.5,128.7 L630.2,129.7 L630.8,130.6 L631.5,131.5 L632.2,132.3 L632.8,133.0 L633.5,133.7 L634.2,134.3 L634.8,134.8 L635.5,135.3 L636.2,135.8 L636.8,136.2 L637.5,136.5 L638.2,136.8 L638.8,137.1 L639.5,137.4 L640.2,137.6 L640.8,137.8 L641.5,137.9 L642.2,138.1 L642.8,138.2 L643.5,138.4 L644.2,138.5 L644.8,138.6 L645.5,138.7 L646.2,138.8 L646.8,138.9 L647.5,139.0 L648.2,139.2 L648.8,139.3 L649.5,139.4 L650.2,139.5 L650.8,139.6 L651.5,139.8 L652.2,139.9 L652.8,140.0 L653.5,140.2 L654.2,140.3 L654.8,140.5 L655.5,140.7 L656.2,140.8 L656.8,141.0 L657.5,141.2 L658.2,141.3 L658.8,141.5 L659.5,141.7 L660.2,141.8 L660.8,142.0 L661.5,142.2 L662.2,142.4 L662.8,142.5 L663.5,142.7 L664.2,142.9 L664.8,143.0 L665.5,143.2 L666.2,143.3 L666.8,143.5 L667.5,143.6 L668.2,143.8 L668.8,143.9 L669.5,144.0 L670.2,144.2 L670.8,144.3 L671.5,144.4 L672.2,144.5 L672.8,144.6 L673.5,144.7 L674.2,144.8 L674.8,144.9 L675.5,145.0 L676.2,145.1 L676.8,145.2 L677.5,145.2 L678.2,145.3 L678.8,145.4 L679.5,145.4 L680.2,145.5 L680.8,145.5 L681.5,145.6 L682.2,145.6 L682.8,145.7 L683.5,145.7 L684.2,145.8 L684.8,145.8 L685.5,145.8 L686.2,145.9 L686.8,145.9 L687.5,145.9 L688.2,145.9 L688.8,145.9 L689.5,146.0 L690.2,146.0 L690.8,146.0 L691.5,146.0 L692.2,146.0 L692.8,146.0 L693.5,146.1 L694.2,146.1 L694.8,146.1 L695.5,146.1 L696.2,146.1 L696.8,146.1 L697.5,146.1 L698.2,146.1 L698.8,146.1 L699.5,146.1 L700.2,146.1 L700.8,146.1 L701.5,146.1 L702.2,146.1 L702.8,146.1 L703.5,146.1 L704.2,146.1 L704.8,146.1 L705.5,146.1 L706.2,146.1 L706.8,146.1 L707.5,146.1" fill="none" stroke="#fdae61" stroke-width="1.7" stroke-linejoin="round" stroke-dasharray="1.6 2.65" stroke-dashoffset="1.4"/>
<path d="M587.8,146.2 L588.5,146.1 L589.1,146.1 L589.8,146.0 L590.5,145.8 L591.1,145.6 L591.8,145.4 L592.5,145.1 L593.1,144.7 L593.8,144.3 L594.5,143.8 L595.1,143.3 L595.8,142.8 L596.5,142.3 L597.1,141.7 L597.8,141.2 L598.5,140.6 L599.1,140.0 L599.8,139.5 L600.5,139.0 L601.1,138.5 L601.8,138.1 L602.5,137.7 L603.1,137.3 L603.8,137.0 L604.5,136.8 L605.1,136.7 L605.8,136.6 L606.5,136.5 L607.1,136.6 L607.8,136.7 L608.5,136.8 L609.1,137.1 L609.8,137.3 L610.5,137.7 L611.1,138.1 L611.8,138.5 L612.5,138.9 L613.1,139.4 L613.8,140.0 L614.5,140.5 L615.1,141.0 L615.8,141.6 L616.5,142.1 L617.1,142.7 L617.8,143.2 L618.5,143.6 L619.1,144.1 L619.8,144.5 L620.5,144.9 L621.1,145.2 L621.8,145.5 L622.5,145.8 L623.1,145.9 L623.8,146.1 L624.5,146.1 L625.1,146.1 L625.8,146.1 L626.5,146.0 L627.1,145.8 L627.8,145.6 L628.5,145.4 L629.1,145.1 L629.8,144.7 L630.5,144.4 L631.1,143.9 L631.8,143.5 L632.5,143.0 L633.1,142.5 L633.8,142.0 L634.5,141.5 L635.1,140.9 L635.8,140.4 L636.5,139.8 L637.1,139.3 L637.8,138.8 L638.5,138.3 L639.1,137.8 L639.8,137.3 L640.5,136.9 L641.1,136.5 L641.8,136.1 L642.5,135.7 L643.1,135.4 L643.8,135.1 L644.5,134.8 L645.1,134.6 L645.8,134.4 L646.5,134.3 L647.1,134.2 L647.8,134.1 L648.5,134.1 L649.1,134.0 L649.8,134.1 L650.5,134.1 L651.1,134.2 L651.8,134.3 L652.5,134.5 L653.1,134.7 L653.8,134.9 L654.5,135.1 L655.1,135.3 L655.8,135.6 L656.5,135.8 L657.1,136.1 L657.8,136.4 L658.5,136.7 L659.1,137.0 L659.8,137.4 L660.5,137.7 L661.1,138.0 L661.8,138.3 L662.5,138.7 L663.1,139.0 L663.8,139.3 L664.5,139.6 L665.1,140.0 L665.8,140.3 L666.5,140.6 L667.1,140.9 L667.8,141.1 L668.5,141.4 L669.1,141.7 L669.8,142.0 L670.5,142.2 L671.1,142.5 L671.8,142.7 L672.5,142.9 L673.1,143.1 L673.8,143.3 L674.5,143.5 L675.1,143.7 L675.8,143.9 L676.5,144.0 L677.1,144.2 L677.8,144.3 L678.5,144.5 L679.1,144.6 L679.8,144.7 L680.5,144.8 L681.1,144.9 L681.8,145.0 L682.5,145.1 L683.1,145.2 L683.8,145.3 L684.5,145.4 L685.1,145.4 L685.8,145.5 L686.5,145.6 L687.1,145.6 L687.8,145.7 L688.5,145.7 L689.1,145.7 L689.8,145.8 L690.5,145.8 L691.1,145.9 L691.8,145.9 L692.5,145.9 L693.1,145.9 L693.8,146.0 L694.5,146.0 L695.1,146.0 L695.8,146.0 L696.5,146.0 L697.1,146.0 L697.8,146.0 L698.5,146.1 L699.1,146.1 L699.8,146.1 L700.5,146.1 L701.1,146.1 L701.8,146.1 L702.5,146.1 L703.1,146.1 L703.8,146.1 L704.5,146.1 L705.1,146.1 L705.8,146.1 L706.5,146.1 L707.1,146.1 L707.8,146.1" fill="none" stroke="#d7191c" stroke-width="1.7" stroke-linejoin="round" stroke-dasharray="1.6 2.65" stroke-dashoffset="2.8"/>
</g>
<rect x="461.6" y="42.6" width="252.10" height="108.35" fill="none" stroke="#000" stroke-width="1.2"/>
<path d="M507.80,150.95v-3.6M507.80,42.6v3.6M587.80,150.95v-3.6M587.80,42.6v3.6M667.80,150.95v-3.6M667.80,42.6v3.6M461.6,146.15h3.6M713.7,146.15h-3.6M461.6,92.73h3.6M713.7,92.73h-3.6" stroke="#000" stroke-width="0.9" fill="none"/>
<rect x="493.31" y="160.72" width="7.32" height="0.854" fill="#000"/>
<text x="501.50" y="164.20" font-size="12.565999999999999" text-anchor="start" textLength="21.89" lengthAdjust="spacingAndGlyphs">0.01</text>
<text x="576.75" y="164.20" font-size="12.565999999999999" text-anchor="start" textLength="21.89" lengthAdjust="spacingAndGlyphs">0.00</text>
<text x="656.75" y="164.20" font-size="12.565999999999999" text-anchor="start" textLength="21.89" lengthAdjust="spacingAndGlyphs">0.01</text>
<text x="451.30" y="150.65" font-size="12.565999999999999" text-anchor="start" textLength="6.30" lengthAdjust="spacingAndGlyphs">0</text>
<text x="451.30" y="97.23" font-size="12.565999999999999" text-anchor="start" textLength="6.30" lengthAdjust="spacingAndGlyphs">1</text>
<text x="523.10" y="179.90" font-size="12.8" text-anchor="start" textLength="82.70" lengthAdjust="spacingAndGlyphs">Detection angle</text>
<text x="610.30" y="179.90" font-size="12.8" text-anchor="start" font-style="italic" textLength="8.50" lengthAdjust="spacingAndGlyphs">ϕ</text>
<text x="624.80" y="179.90" font-size="12.8" text-anchor="start" textLength="26.60" lengthAdjust="spacingAndGlyphs">(rad)</text>
<text x="445.40" y="96.10" font-size="12.8" text-anchor="middle" textLength="27.00" lengthAdjust="spacingAndGlyphs" transform="rotate(-90 445.4 96.1)">DDP</text>
<text x="474.40" y="58.50" font-size="10.8" text-anchor="start" textLength="13.20" lengthAdjust="spacingAndGlyphs">(b)</text>
<path d="M463.60,33.50l5.70,5.70M469.30,33.50l-5.70,5.70" stroke="#000" stroke-width="0.8"/>
<text x="472.50" y="39.60" font-size="12.2" text-anchor="start" textLength="11.60" lengthAdjust="spacingAndGlyphs">10</text>
<rect x="485.10" y="31.95" width="5.40" height="0.7" fill="#000"/>
<text x="491.60" y="34.80" font-size="8.6" text-anchor="start" textLength="4.20" lengthAdjust="spacingAndGlyphs">5</text>
<text x="576.20" y="59.20" font-size="10.6" text-anchor="start" font-style="italic" textLength="5.40" lengthAdjust="spacingAndGlyphs">τ</text>
<path d="M585.30,55.50h7.2M585.30,57.50h7.2" stroke="#000" stroke-width="0.7"/>
<text x="596.20" y="59.20" font-size="10.2" text-anchor="start" textLength="12.25" lengthAdjust="spacingAndGlyphs">0.1</text>
<text x="613.95" y="59.20" font-size="10.4" text-anchor="start" textLength="9.60" lengthAdjust="spacingAndGlyphs">fs,</text>
<text x="626.05" y="59.20" font-size="10.6" text-anchor="start" font-style="italic" textLength="5.00" lengthAdjust="spacingAndGlyphs">σ</text>
<path d="M632.35,60.20h5.8M635.25,60.20v-3.9" stroke="#000" stroke-width="0.6" fill="none"/>
<path d="M642.15,55.50h7.6M642.15,57.50h7.6" stroke="#000" stroke-width="0.7"/>
<text x="653.85" y="59.20" font-size="10.6" text-anchor="start" font-style="italic" textLength="4.90" lengthAdjust="spacingAndGlyphs">k</text>
<text x="658.95" y="60.80" font-size="7.2" text-anchor="start" textLength="4.00" lengthAdjust="spacingAndGlyphs">0</text>
<path d="M667.75,53.30l5.4,5.4M673.15,53.30l-5.4,5.4" stroke="#000" stroke-width="0.7"/>
<text x="676.75" y="59.20" font-size="10.2" text-anchor="start" textLength="23.60" lengthAdjust="spacingAndGlyphs">0.001</text>
<path d="M632.90,70.90h10.4M641.80,75.70L646.00,65.90" stroke="#d7191c" stroke-width="1.7" fill="none"/>
<path d="M648.00,70.90h1.6m2.1,0h1.6" stroke="#d7191c" stroke-width="1.7"/>
<path d="M632.90,86.40h10.4M641.80,91.20L646.00,81.40" stroke="#fdae61" stroke-width="1.7" fill="none"/>
<path d="M648.00,86.40h1.6m2.1,0h1.6" stroke="#fdae61" stroke-width="1.7"/>
<path d="M632.90,101.90h10.4M641.80,106.70L646.00,96.90" stroke="#2c7bb6" stroke-width="1.7" fill="none"/>
<path d="M648.00,101.90h1.6m2.1,0h1.6" stroke="#2c7bb6" stroke-width="1.7"/>
<text x="662.10" y="74.90" font-size="11.2" text-anchor="start" font-style="italic" textLength="3.60" lengthAdjust="spacingAndGlyphs">t</text>
<text x="666.20" y="77.00" font-size="7.2" text-anchor="start" font-style="italic" textLength="4.40" lengthAdjust="spacingAndGlyphs">d</text>
<path d="M675.30,71.50h7.2M675.30,73.50h7.2" stroke="#000" stroke-width="0.7"/>
<text x="685.30" y="74.90" font-size="11.2" text-anchor="start" textLength="5.30" lengthAdjust="spacingAndGlyphs">0</text>
<text x="662.10" y="90.40" font-size="11.2" text-anchor="start" font-style="italic" textLength="3.60" lengthAdjust="spacingAndGlyphs">t</text>
<text x="666.20" y="92.50" font-size="7.2" text-anchor="start" font-style="italic" textLength="4.40" lengthAdjust="spacingAndGlyphs">d</text>
<path d="M675.30,86.50h7.2M675.30,88.50h7.2" stroke="#000" stroke-width="0.7"/>
<text x="684.60" y="90.40" font-size="11.2" text-anchor="start" font-style="italic" textLength="6.80" lengthAdjust="spacingAndGlyphs">T</text>
<text x="692.00" y="90.80" font-size="13.0" text-anchor="start" font-style="italic" textLength="5.40" lengthAdjust="spacingAndGlyphs">/</text>
<text x="698.10" y="90.40" font-size="11.2" text-anchor="start" textLength="5.20" lengthAdjust="spacingAndGlyphs">4</text>
<text x="662.10" y="105.90" font-size="11.2" text-anchor="start" font-style="italic" textLength="3.60" lengthAdjust="spacingAndGlyphs">t</text>
<text x="666.20" y="108.00" font-size="7.2" text-anchor="start" font-style="italic" textLength="4.40" lengthAdjust="spacingAndGlyphs">d</text>
<path d="M675.30,102.50h7.2M675.30,104.50h7.2" stroke="#000" stroke-width="0.7"/>
<text x="684.60" y="105.90" font-size="11.2" text-anchor="start" font-style="italic" textLength="6.80" lengthAdjust="spacingAndGlyphs">T</text>
<text x="692.00" y="106.30" font-size="13.0" text-anchor="start" font-style="italic" textLength="5.40" lengthAdjust="spacingAndGlyphs">/</text>
<text x="698.10" y="105.90" font-size="11.2" text-anchor="start" textLength="5.20" lengthAdjust="spacingAndGlyphs">2</text>
<clipPath id="cc"><rect x="99.25" y="205.4" width="179.55" height="108.70"/></clipPath>
<g clip-path="url(#cc)">
<path d="M104.6,309.2 L105.3,309.0 L106.0,308.7 L106.7,308.3 L107.4,307.9 L108.1,307.5 L108.7,306.7 L109.4,305.8 L110.1,304.8 L110.8,303.6 L111.5,302.2 L112.2,300.8 L112.9,299.2 L113.6,297.4 L114.3,295.2 L115.0,292.7 L115.7,290.0 L116.4,287.3 L117.0,284.5 L117.7,281.7 L118.4,278.8 L119.1,275.8 L119.8,272.8 L120.5,269.8 L121.2,266.9 L121.9,263.9 L122.6,260.8 L123.3,257.8 L124.0,255.0 L124.6,252.5 L125.3,250.4 L126.0,248.5 L126.7,246.6 L127.4,245.0 L128.1,243.6 L128.8,242.5 L129.5,241.7 L130.2,240.9 L130.9,240.2 L131.6,239.6 L132.2,239.0 L132.9,238.6 L133.6,238.4 L134.3,238.4 L135.0,238.4 L135.7,238.6 L136.4,238.8 L137.1,239.2 L137.8,239.8 L138.5,240.7 L139.2,241.7 L139.9,242.8 L140.5,243.9 L141.2,245.1 L141.9,246.6 L142.6,248.3 L143.3,250.1 L144.0,252.0 L144.7,254.0 L145.4,256.0 L146.1,258.0 L146.8,260.1 L147.5,262.1 L148.1,264.1 L148.8,266.1 L149.5,268.0 L150.2,269.8 L150.9,271.6 L151.6,273.3 L152.3,275.0 L153.0,276.7 L153.7,278.2 L154.4,279.7 L155.1,281.0 L155.8,282.1 L156.4,283.1 L157.1,284.1 L157.8,285.0 L158.5,285.9 L159.2,286.7 L159.9,287.4 L160.6,288.0 L161.3,288.7 L162.0,289.3 L162.7,289.8 L163.4,290.4 L164.0,290.9 L164.7,291.3 L165.4,291.6 L166.1,291.9 L166.8,292.2 L167.5,292.4 L168.2,292.6 L168.9,292.8 L169.6,293.0 L170.3,293.1 L171.0,293.3 L171.7,293.4 L172.3,293.6 L173.0,293.7 L173.7,293.9 L174.4,294.0 L175.1,294.2 L175.8,294.3 L176.5,294.4 L177.2,294.6 L177.9,294.7 L178.6,294.8 L179.3,294.9 L179.9,295.1 L180.6,295.2 L181.3,295.3 L182.0,295.4 L182.7,295.6 L183.4,295.7 L184.1,295.9 L184.8,296.0 L185.5,296.2 L186.2,296.4 L186.9,296.5 L187.6,296.8 L188.2,297.0 L188.9,297.2 L189.6,297.4 L190.3,297.6 L191.0,297.9 L191.7,298.1 L192.4,298.3 L193.1,298.5 L193.8,298.8 L194.5,299.0 L195.2,299.2 L195.8,299.4 L196.5,299.7 L197.2,299.9 L197.9,300.1 L198.6,300.3 L199.3,300.6 L200.0,300.8 L200.7,301.0 L201.4,301.2 L202.1,301.5 L202.8,301.7 L203.4,301.9 L204.1,302.1 L204.8,302.3 L205.5,302.6 L206.2,302.8 L206.9,303.0 L207.6,303.2 L208.3,303.4 L209.0,303.6 L209.7,303.9 L210.4,304.1 L211.1,304.3 L211.7,304.5 L212.4,304.7 L213.1,304.9 L213.8,305.1 L214.5,305.3 L215.2,305.5 L215.9,305.7 L216.6,305.9 L217.3,306.1 L218.0,306.2 L218.7,306.4 L219.3,306.6 L220.0,306.8 L220.7,306.9 L221.4,307.1 L222.1,307.2 L222.8,307.4 L223.5,307.5 L224.2,307.6 L224.9,307.7 L225.6,307.8 L226.3,307.9 L227.0,308.0 L227.6,308.1 L228.3,308.2 L229.0,308.3 L229.7,308.4 L230.4,308.4 L231.1,308.5 L231.8,308.5 L232.5,308.6 L233.2,308.6 L233.9,308.7 L234.6,308.7 L235.2,308.7 L235.9,308.8 L236.6,308.8 L237.3,308.8 L238.0,308.9 L238.7,308.9 L239.4,308.9 L240.1,309.0 L240.8,309.0 L241.5,309.0 L242.2,309.0 L242.8,309.1 L243.5,309.1 L244.2,309.1 L244.9,309.1 L245.6,309.1 L246.3,309.2 L247.0,309.2 L247.7,309.2 L248.4,309.2 L249.1,309.2 L249.8,309.2 L250.5,309.2 L251.1,309.2 L251.8,309.2 L252.5,309.2 L253.2,309.2 L253.9,309.2 L254.6,309.2 L255.3,309.2 L256.0,309.2 L256.7,309.2 L257.4,309.2 L258.1,309.2 L258.7,309.2 L259.4,309.2 L260.1,309.2 L260.8,309.2 L261.5,309.2 L262.2,309.2 L262.9,309.2 L263.6,309.2 L264.3,309.2 L265.0,309.2 L265.7,309.2 L266.4,309.2 L267.0,309.2 L267.7,309.2 L268.4,309.2 L269.1,309.2 L269.8,309.2 L270.5,309.2" fill="none" stroke="#d7191c" stroke-width="1.7" stroke-linejoin="round"/>
<path d="M118.6,278.3 L119.3,275.3 L120.0,272.3 L120.7,269.3 L121.4,266.4 L122.1,263.4 L122.8,260.3 L123.5,257.3 L124.2,254.5 L124.8,252.0 L125.5,249.9 L126.2,248.0 L126.9,246.1 L127.6,244.5 L128.3,243.1 L129.0,242.0 L129.7,241.2 L130.4,240.4 L131.1,239.7 L131.8,239.1 L132.4,238.5 L133.1,238.1 L133.8,237.9 L134.5,237.9 L135.2,237.9 L135.9,238.1 L136.6,238.3 L137.3,238.7 L138.0,239.3 L138.7,240.2 L139.4,241.2 L140.1,242.3 L140.7,243.4 L141.4,244.6 L142.1,246.1 L142.8,247.8 L143.5,249.6 L144.2,251.5 L144.9,253.5 L145.6,255.5 L146.3,257.5 L147.0,259.6 L147.7,261.6 L148.3,263.6 L149.0,265.6 L149.7,267.5 L150.4,269.3 L151.1,271.1 L151.8,272.8 L152.5,274.5 L153.2,276.2 L153.9,277.7 L154.6,279.2 L155.3,280.5 L156.0,281.6 L156.6,282.6 L157.3,283.6 L158.0,284.5 L158.7,285.4 L159.4,286.2 L160.1,286.9 L160.8,287.5 L161.5,288.2 L162.2,288.8 L162.9,289.3 L163.6,289.9 L164.2,290.4 L164.9,290.8 L165.6,291.1 L166.3,291.4 L167.0,291.7 L167.7,291.9 L168.4,292.1 L169.1,292.3 L169.8,292.5 L170.5,292.6 L171.2,292.8 L171.9,292.9 L172.5,293.1 L173.2,293.2 L173.9,293.4 L174.6,293.5 L175.3,293.7 L176.0,293.8 L176.7,293.9 L177.4,294.1 L178.1,294.2 L178.8,294.3 L179.5,294.4 L180.1,294.6 L180.8,294.7 L181.5,294.8 L182.2,294.9 L182.9,295.1 L183.6,295.2 L184.3,295.4 L185.0,295.5 L185.7,295.7 L186.4,295.9 L187.1,296.0 L187.8,296.3 L188.4,296.5 L189.1,296.7 L189.8,296.9 L190.5,297.1 L191.2,297.4 L191.9,297.6 L192.6,297.8 L193.3,298.0 L194.0,298.3 L194.7,298.5 L195.4,298.7 L196.0,298.9 L196.7,299.2 L197.4,299.4 L198.1,299.6 L198.8,299.8 L199.5,300.1 L200.2,300.3 L200.9,300.5 L201.6,300.7 L202.3,301.0 L203.0,301.2 L203.6,301.4 L204.3,301.6 L205.0,301.8 L205.7,302.1 L206.4,302.3 L207.1,302.5 L207.8,302.7 L208.5,302.9 L209.2,303.1 L209.9,303.4 L210.6,303.6 L211.3,303.8 L211.9,304.0 L212.6,304.2 L213.3,304.4 L214.0,304.6 L214.7,304.8 L215.4,305.0 L216.1,305.2 L216.8,305.4 L217.5,305.6 L218.2,305.7 L218.9,305.9 L219.5,306.1 L220.2,306.3 L220.9,306.4 L221.6,306.6 L222.3,306.7 L223.0,306.9 L223.7,307.0 L224.4,307.1 L225.1,307.2 L225.8,307.3 L226.5,307.4 L227.2,307.5 L227.8,307.6 L228.5,307.7 L229.2,307.8 L229.9,307.9 L230.6,307.9 L231.3,308.0 L232.0,308.0 L232.7,308.1 L233.4,308.1 L234.1,308.2 L234.8,308.2 L235.4,308.2 L236.1,308.3 L236.8,308.3 L237.5,308.3 L238.2,308.4 L238.9,308.4 L239.6,308.4 L240.3,308.5 L241.0,308.5 L241.7,308.5 L242.4,308.5 L243.0,308.6 L243.7,308.6 L244.4,308.6 L245.1,308.6 L245.8,308.6 L246.5,308.7 L247.2,308.7 L247.9,308.7 L248.6,308.7 L249.3,308.7 L250.0,308.7 L250.7,308.7 L251.3,308.7 L252.0,308.7 L252.7,308.7 L253.4,308.7 L254.1,308.7 L254.8,308.7 L255.5,308.7 L256.2,308.7 L256.9,308.7 L257.6,308.7 L258.3,308.7 L258.9,308.7 L259.6,308.7 L260.3,308.7 L261.0,308.7 L261.7,308.7 L262.4,308.7 L263.1,308.7 L263.8,308.7 L264.5,308.7 L265.2,308.7 L265.9,308.7 L266.6,308.7 L267.2,308.7 L267.9,308.7 L268.6,308.7 L269.3,308.7 L270.0,308.7 L270.7,308.7" fill="none" stroke="#d7191c" stroke-width="1.7" stroke-linejoin="round" stroke-dasharray="1.6 2.65"/>
<path d="M104.6,309.2 L105.3,308.8 L106.0,308.4 L106.7,307.9 L107.4,307.4 L108.1,306.8 L108.7,305.8 L109.4,304.7 L110.1,303.5 L110.8,302.2 L111.5,300.8 L112.2,299.2 L112.9,297.5 L113.6,295.5 L114.3,293.2 L115.0,290.6 L115.7,287.8 L116.4,284.8 L117.0,281.9 L117.7,278.9 L118.4,275.7 L119.1,272.5 L119.8,269.2 L120.5,266.0 L121.2,262.9 L121.9,259.7 L122.6,256.6 L123.3,253.5 L124.0,250.6 L124.6,248.0 L125.3,245.7 L126.0,243.5 L126.7,241.4 L127.4,239.5 L128.1,237.9 L128.8,236.7 L129.5,235.7 L130.2,234.7 L130.9,233.9 L131.6,233.1 L132.2,232.5 L132.9,232.0 L133.6,231.7 L134.3,231.5 L135.0,231.5 L135.7,231.5 L136.4,231.6 L137.1,231.9 L137.8,232.5 L138.5,233.3 L139.2,234.2 L139.9,235.2 L140.5,236.3 L141.2,237.3 L141.9,238.6 L142.6,240.1 L143.3,241.7 L144.0,243.4 L144.7,245.2 L145.4,247.0 L146.1,249.0 L146.8,251.1 L147.5,253.2 L148.1,255.3 L148.8,257.4 L149.5,259.5 L150.2,261.5 L150.9,263.5 L151.6,265.5 L152.3,267.6 L153.0,269.6 L153.7,271.6 L154.4,273.4 L155.1,275.0 L155.8,276.5 L156.4,278.0 L157.1,279.3 L157.8,280.6 L158.5,281.8 L159.2,282.9 L159.9,283.9 L160.6,284.9 L161.3,285.8 L162.0,286.6 L162.7,287.5 L163.4,288.2 L164.0,288.9 L164.7,289.5 L165.4,290.1 L166.1,290.5 L166.8,290.9 L167.5,291.3 L168.2,291.6 L168.9,291.9 L169.6,292.2 L170.3,292.5 L171.0,292.8 L171.7,293.0 L172.3,293.3 L173.0,293.5 L173.7,293.7 L174.4,293.9 L175.1,294.1 L175.8,294.3 L176.5,294.5 L177.2,294.7 L177.9,294.9 L178.6,295.0 L179.3,295.2 L179.9,295.4 L180.6,295.5 L181.3,295.7 L182.0,295.8 L182.7,296.0 L183.4,296.2 L184.1,296.4 L184.8,296.5 L185.5,296.7 L186.2,296.9 L186.9,297.1 L187.6,297.3 L188.2,297.5 L188.9,297.8 L189.6,298.0 L190.3,298.2 L191.0,298.4 L191.7,298.6 L192.4,298.8 L193.1,299.0 L193.8,299.3 L194.5,299.5 L195.2,299.7 L195.8,299.9 L196.5,300.1 L197.2,300.3 L197.9,300.5 L198.6,300.7 L199.3,301.0 L200.0,301.2 L200.7,301.4 L201.4,301.6 L202.1,301.8 L202.8,302.0 L203.4,302.2 L204.1,302.4 L204.8,302.6 L205.5,302.9 L206.2,303.1 L206.9,303.3 L207.6,303.5 L208.3,303.7 L209.0,303.9 L209.7,304.1 L210.4,304.3 L211.1,304.5 L211.7,304.7 L212.4,304.8 L213.1,305.0 L213.8,305.2 L214.5,305.4 L215.2,305.6 L215.9,305.8 L216.6,306.0 L217.3,306.1 L218.0,306.3 L218.7,306.5 L219.3,306.7 L220.0,306.8 L220.7,307.0 L221.4,307.2 L222.1,307.3 L222.8,307.4 L223.5,307.5 L224.2,307.6 L224.9,307.7 L225.6,307.8 L226.3,307.9 L227.0,308.0 L227.6,308.1 L228.3,308.2 L229.0,308.3 L229.7,308.4 L230.4,308.4 L231.1,308.5 L231.8,308.5 L232.5,308.6 L233.2,308.6 L233.9,308.7 L234.6,308.7 L235.2,308.7 L235.9,308.8 L236.6,308.8 L237.3,308.8 L238.0,308.9 L238.7,308.9 L239.4,308.9 L240.1,309.0 L240.8,309.0 L241.5,309.0 L242.2,309.0 L242.8,309.1 L243.5,309.1 L244.2,309.1 L244.9,309.1 L245.6,309.1 L246.3,309.2 L247.0,309.2 L247.7,309.2 L248.4,309.2 L249.1,309.2 L249.8,309.2 L250.5,309.2 L251.1,309.2 L251.8,309.2 L252.5,309.2 L253.2,309.2 L253.9,309.2 L254.6,309.2 L255.3,309.2 L256.0,309.2 L256.7,309.2 L257.4,309.2 L258.1,309.2 L258.7,309.2 L259.4,309.2 L260.1,309.2 L260.8,309.2 L261.5,309.2 L262.2,309.2 L262.9,309.2 L263.6,309.2 L264.3,309.2 L265.0,309.2 L265.7,309.2 L266.4,309.2 L267.0,309.2 L267.7,309.2 L268.4,309.2 L269.1,309.2 L269.8,309.2 L270.5,309.2" fill="none" stroke="#fdae61" stroke-width="1.7" stroke-linejoin="round"/>
<path d="M104.6,309.2 L105.3,308.7 L106.0,308.1 L106.7,307.5 L107.4,306.9 L108.1,306.2 L108.7,305.0 L109.4,303.7 L110.1,302.3 L110.8,300.9 L111.5,299.3 L112.2,297.6 L112.9,295.8 L113.6,293.7 L114.3,291.2 L115.0,288.5 L115.7,285.5 L116.4,282.4 L117.0,279.3 L117.7,276.1 L118.4,272.7 L119.1,269.2 L119.8,265.6 L120.5,262.2 L121.2,258.9 L121.9,255.6 L122.6,252.4 L123.3,249.2 L124.0,246.2 L124.6,243.4 L125.3,241.0 L126.0,238.5 L126.7,236.2 L127.4,234.1 L128.1,232.3 L128.8,230.8 L129.5,229.7 L130.2,228.6 L130.9,227.6 L131.6,226.7 L132.2,225.9 L132.9,225.3 L133.6,224.9 L134.3,224.7 L135.0,224.6 L135.7,224.5 L136.4,224.5 L137.1,224.7 L137.8,225.2 L138.5,225.9 L139.2,226.7 L139.9,227.7 L140.5,228.6 L141.2,229.5 L141.9,230.6 L142.6,231.9 L143.3,233.3 L144.0,234.8 L144.7,236.4 L145.4,238.1 L146.1,240.0 L146.8,242.1 L147.5,244.2 L148.1,246.5 L148.8,248.7 L149.5,251.0 L150.2,253.2 L150.9,255.4 L151.6,257.8 L152.3,260.2 L153.0,262.5 L153.7,264.9 L154.4,267.1 L155.1,269.1 L155.8,271.0 L156.4,272.8 L157.1,274.5 L157.8,276.1 L158.5,277.7 L159.2,279.1 L159.9,280.5 L160.6,281.7 L161.3,282.9 L162.0,284.0 L162.7,285.1 L163.4,286.1 L164.0,287.0 L164.7,287.8 L165.4,288.5 L166.1,289.1 L166.8,289.7 L167.5,290.2 L168.2,290.7 L168.9,291.1 L169.6,291.5 L170.3,291.9 L171.0,292.3 L171.7,292.6 L172.3,292.9 L173.0,293.2 L173.7,293.5 L174.4,293.8 L175.1,294.1 L175.8,294.3 L176.5,294.6 L177.2,294.8 L177.9,295.0 L178.6,295.3 L179.3,295.5 L179.9,295.7 L180.6,295.9 L181.3,296.1 L182.0,296.3 L182.7,296.5 L183.4,296.7 L184.1,296.9 L184.8,297.1 L185.5,297.3 L186.2,297.5 L186.9,297.7 L187.6,297.9 L188.2,298.1 L188.9,298.3 L189.6,298.5 L190.3,298.7 L191.0,298.9 L191.7,299.1 L192.4,299.3 L193.1,299.5 L193.8,299.7 L194.5,299.9 L195.2,300.1 L195.8,300.3 L196.5,300.5 L197.2,300.7 L197.9,300.9 L198.6,301.2 L199.3,301.4 L200.0,301.6 L200.7,301.8 L201.4,302.0 L202.1,302.2 L202.8,302.4 L203.4,302.6 L204.1,302.8 L204.8,303.0 L205.5,303.2 L206.2,303.3 L206.9,303.5 L207.6,303.7 L208.3,303.9 L209.0,304.1 L209.7,304.3 L210.4,304.5 L211.1,304.6 L211.7,304.8 L212.4,305.0 L213.1,305.2 L213.8,305.3 L214.5,305.5 L215.2,305.7 L215.9,305.9 L216.6,306.1 L217.3,306.2 L218.0,306.4 L218.7,306.6 L219.3,306.8 L220.0,306.9 L220.7,307.1 L221.4,307.2 L222.1,307.3 L222.8,307.5 L223.5,307.6 L224.2,307.7 L224.9,307.8 L225.6,307.9 L226.3,308.0 L227.0,308.1 L227.6,308.2 L228.3,308.2 L229.0,308.3 L229.7,308.4 L230.4,308.4 L231.1,308.5 L231.8,308.5 L232.5,308.6 L233.2,308.6 L233.9,308.7 L234.6,308.7 L235.2,308.7 L235.9,308.8 L236.6,308.8 L237.3,308.8 L238.0,308.9 L238.7,308.9 L239.4,308.9 L240.1,309.0 L240.8,309.0 L241.5,309.0 L242.2,309.0 L242.8,309.1 L243.5,309.1 L244.2,309.1 L244.9,309.1 L245.6,309.1 L246.3,309.2 L247.0,309.2 L247.7,309.2 L248.4,309.2 L249.1,309.2 L249.8,309.2 L250.5,309.2 L251.1,309.2 L251.8,309.2 L252.5,309.2 L253.2,309.2 L253.9,309.2 L254.6,309.2 L255.3,309.2 L256.0,309.2 L256.7,309.2 L257.4,309.2 L258.1,309.2 L258.7,309.2 L259.4,309.2 L260.1,309.2 L260.8,309.2 L261.5,309.2 L262.2,309.2 L262.9,309.2 L263.6,309.2 L264.3,309.2 L265.0,309.2 L265.7,309.2 L266.4,309.2 L267.0,309.2 L267.7,309.2 L268.4,309.2 L269.1,309.2 L269.8,309.2 L270.5,309.2" fill="none" stroke="#2c7bb6" stroke-width="1.7" stroke-linejoin="round"/>
<path d="M166.8,290.9 L167.5,291.3 L168.2,291.6 L168.9,291.9 L169.6,292.2 L170.3,292.5 L171.0,292.8 L171.7,293.0 L172.3,293.3 L173.0,293.5 L173.7,293.7 L174.4,293.9 L175.1,294.1 L175.8,294.3 L176.5,294.5 L177.2,294.7 L177.9,294.9 L178.6,295.0 L179.3,295.2 L179.9,295.4 L180.6,295.5 L181.3,295.7 L182.0,295.8 L182.7,296.0 L183.4,296.2 L184.1,296.4 L184.8,296.5 L185.5,296.7 L186.2,296.9 L186.9,297.1 L187.6,297.3 L188.2,297.5 L188.9,297.8 L189.6,298.0 L190.3,298.2 L191.0,298.4 L191.7,298.6 L192.4,298.8 L193.1,299.0 L193.8,299.3 L194.5,299.5 L195.2,299.7 L195.8,299.9 L196.5,300.1 L197.2,300.3 L197.9,300.5 L198.6,300.7 L199.3,301.0 L200.0,301.2 L200.7,301.4 L201.4,301.6 L202.1,301.8 L202.8,302.0 L203.4,302.2 L204.1,302.4 L204.8,302.6 L205.5,302.9 L206.2,303.1 L206.9,303.3 L207.6,303.5 L208.3,303.7 L209.0,303.9 L209.7,304.1 L210.4,304.3 L211.1,304.5 L211.7,304.7 L212.4,304.8 L213.1,305.0 L213.8,305.2 L214.5,305.4 L215.2,305.6 L215.9,305.8 L216.6,306.0 L217.3,306.1 L218.0,306.3 L218.7,306.5 L219.3,306.7 L220.0,306.8 L220.7,307.0 L221.4,307.2 L222.1,307.3 L222.8,307.4 L223.5,307.5 L224.2,307.6 L224.9,307.7 L225.6,307.8 L226.3,307.9 L227.0,308.0 L227.6,308.1 L228.3,308.2 L229.0,308.3 L229.7,308.4 L230.4,308.4 L231.1,308.5 L231.8,308.5 L232.5,308.6 L233.2,308.6 L233.9,308.7 L234.6,308.7 L235.2,308.7 L235.9,308.8 L236.6,308.8 L237.3,308.8 L238.0,308.9 L238.7,308.9 L239.4,308.9 L240.1,309.0 L240.8,309.0 L241.5,309.0 L242.2,309.0 L242.8,309.1 L243.5,309.1 L244.2,309.1 L244.9,309.1 L245.6,309.1 L246.3,309.2 L247.0,309.2 L247.7,309.2 L248.4,309.2 L249.1,309.2 L249.8,309.2 L250.5,309.2 L251.1,309.2 L251.8,309.2 L252.5,309.2 L253.2,309.2 L253.9,309.2 L254.6,309.2 L255.3,309.2 L256.0,309.2 L256.7,309.2 L257.4,309.2 L258.1,309.2 L258.7,309.2 L259.4,309.2 L260.1,309.2 L260.8,309.2 L261.5,309.2 L262.2,309.2 L262.9,309.2 L263.6,309.2 L264.3,309.2 L265.0,309.2 L265.7,309.2 L266.4,309.2 L267.0,309.2 L267.7,309.2 L268.4,309.2 L269.1,309.2 L269.8,309.2 L270.5,309.2" fill="none" stroke="#fdae61" stroke-width="1.7" stroke-linejoin="round" stroke-dasharray="1.6 2.65" stroke-dashoffset="1.4"/>
<path d="M166.8,292.0 L167.5,292.2 L168.2,292.4 L168.9,292.6 L169.6,292.8 L170.3,292.9 L171.0,293.1 L171.7,293.2 L172.3,293.4 L173.0,293.5 L173.7,293.7 L174.4,293.8 L175.1,294.0 L175.8,294.1 L176.5,294.2 L177.2,294.4 L177.9,294.5 L178.6,294.6 L179.3,294.7 L179.9,294.9 L180.6,295.0 L181.3,295.1 L182.0,295.2 L182.7,295.4 L183.4,295.5 L184.1,295.7 L184.8,295.8 L185.5,296.0 L186.2,296.2 L186.9,296.3 L187.6,296.6 L188.2,296.8 L188.9,297.0 L189.6,297.2 L190.3,297.4 L191.0,297.7 L191.7,297.9 L192.4,298.1 L193.1,298.3 L193.8,298.6 L194.5,298.8 L195.2,299.0 L195.8,299.2 L196.5,299.5 L197.2,299.7 L197.9,299.9 L198.6,300.1 L199.3,300.4 L200.0,300.6 L200.7,300.8 L201.4,301.0 L202.1,301.3 L202.8,301.5 L203.4,301.7 L204.1,301.9 L204.8,302.1 L205.5,302.4 L206.2,302.6 L206.9,302.8 L207.6,303.0 L208.3,303.2 L209.0,303.4 L209.7,303.7 L210.4,303.9 L211.1,304.1 L211.7,304.3 L212.4,304.5 L213.1,304.7 L213.8,304.9 L214.5,305.1 L215.2,305.3 L215.9,305.5 L216.6,305.7 L217.3,305.9 L218.0,306.0 L218.7,306.2 L219.3,306.4 L220.0,306.6 L220.7,306.7 L221.4,306.9 L222.1,307.0 L222.8,307.2 L223.5,307.3 L224.2,307.4 L224.9,307.5 L225.6,307.6 L226.3,307.7 L227.0,307.8 L227.6,307.9 L228.3,308.0 L229.0,308.1 L229.7,308.2 L230.4,308.2 L231.1,308.3 L231.8,308.3 L232.5,308.4 L233.2,308.4 L233.9,308.5 L234.6,308.5 L235.2,308.5 L235.9,308.6 L236.6,308.6 L237.3,308.6 L238.0,308.7 L238.7,308.7 L239.4,308.7 L240.1,308.8 L240.8,308.8 L241.5,308.8 L242.2,308.8 L242.8,308.9 L243.5,308.9 L244.2,308.9 L244.9,308.9 L245.6,308.9 L246.3,309.0 L247.0,309.0 L247.7,309.0 L248.4,309.0 L249.1,309.0 L249.8,309.0 L250.5,309.0 L251.1,309.0 L251.8,309.0 L252.5,309.0 L253.2,309.0 L253.9,309.0 L254.6,309.0 L255.3,309.0 L256.0,309.0 L256.7,309.0 L257.4,309.0 L258.1,309.0 L258.7,309.0 L259.4,309.0 L260.1,309.0 L260.8,309.0 L261.5,309.0 L262.2,309.0 L262.9,309.0 L263.6,309.0 L264.3,309.0 L265.0,309.0 L265.7,309.0 L266.4,309.0 L267.0,309.0 L267.7,309.0 L268.4,309.0 L269.1,309.0 L269.8,309.0 L270.5,309.0" fill="none" stroke="#d7191c" stroke-width="1.7" stroke-linejoin="round" stroke-dasharray="1.6 2.65" stroke-dashoffset="2.8"/>
</g>
<rect x="99.25" y="205.4" width="179.55" height="108.70" fill="none" stroke="#000" stroke-width="1.2"/>
<path d="M104.60,314.1v-3.6M104.60,205.4v3.6M159.90,314.1v-3.6M159.90,205.4v3.6M215.20,314.1v-3.6M215.20,205.4v3.6M270.50,314.1v-3.6M270.50,205.4v3.6M99.25,309.20h3.6M278.8,309.20h-3.6M99.25,263.90h3.6M278.8,263.90h-3.6M99.25,218.60h3.6M278.8,218.60h-3.6" stroke="#000" stroke-width="0.9" fill="none"/>
<text x="90.50" y="326.90" font-size="12.565999999999999" text-anchor="start" textLength="27.99" lengthAdjust="spacingAndGlyphs">0.000</text>
<text x="145.80" y="326.90" font-size="12.565999999999999" text-anchor="start" textLength="27.99" lengthAdjust="spacingAndGlyphs">0.005</text>
<text x="201.10" y="326.90" font-size="12.565999999999999" text-anchor="start" textLength="27.99" lengthAdjust="spacingAndGlyphs">0.010</text>
<text x="256.40" y="326.90" font-size="12.565999999999999" text-anchor="start" textLength="27.99" lengthAdjust="spacingAndGlyphs">0.015</text>
<text x="79.21" y="313.70" font-size="12.565999999999999" text-anchor="start" textLength="15.79" lengthAdjust="spacingAndGlyphs">0.0</text>
<text x="79.21" y="268.40" font-size="12.565999999999999" text-anchor="start" textLength="15.79" lengthAdjust="spacingAndGlyphs">0.5</text>
<text x="79.21" y="223.10" font-size="12.565999999999999" text-anchor="start" textLength="15.79" lengthAdjust="spacingAndGlyphs">1.0</text>
<text x="169.40" y="343.20" font-size="12.8" text-anchor="start" font-style="italic" textLength="7.40" lengthAdjust="spacingAndGlyphs">ϕ</text>
<text x="180.70" y="343.20" font-size="12.8" text-anchor="start" textLength="27.00" lengthAdjust="spacingAndGlyphs">(rad)</text>
<text x="73.40" y="259.60" font-size="12.8" text-anchor="middle" textLength="26.60" lengthAdjust="spacingAndGlyphs" transform="rotate(-90 73.4 259.6)">DDP</text>
<text x="108.60" y="222.30" font-size="10.8" text-anchor="start" textLength="11.60" lengthAdjust="spacingAndGlyphs">(c)</text>
<path d="M100.60,195.50l5.70,5.70M106.30,195.50l-5.70,5.70" stroke="#000" stroke-width="0.8"/>
<text x="109.50" y="201.60" font-size="12.2" text-anchor="start" textLength="11.60" lengthAdjust="spacingAndGlyphs">10</text>
<rect x="122.10" y="193.95" width="5.40" height="0.7" fill="#000"/>
<text x="128.60" y="196.80" font-size="8.6" text-anchor="start" textLength="4.20" lengthAdjust="spacingAndGlyphs">5</text>
<text x="152.80" y="221.80" font-size="10.6" text-anchor="start" font-style="italic" textLength="5.40" lengthAdjust="spacingAndGlyphs">τ</text>
<path d="M161.90,217.50h7.2M161.90,219.50h7.2" stroke="#000" stroke-width="0.7"/>
<text x="172.80" y="221.80" font-size="10.2" text-anchor="start" textLength="4.00" lengthAdjust="spacingAndGlyphs">5</text>
<text x="182.30" y="221.80" font-size="10.4" text-anchor="start" textLength="9.60" lengthAdjust="spacingAndGlyphs">fs,</text>
<text x="194.40" y="221.80" font-size="10.6" text-anchor="start" font-style="italic" textLength="5.00" lengthAdjust="spacingAndGlyphs">σ</text>
<path d="M200.70,222.80h5.8M203.60,222.80v-3.9" stroke="#000" stroke-width="0.6" fill="none"/>
<path d="M210.50,217.50h7.6M210.50,219.50h7.6" stroke="#000" stroke-width="0.7"/>
<text x="222.20" y="221.80" font-size="10.6" text-anchor="start" font-style="italic" textLength="4.90" lengthAdjust="spacingAndGlyphs">k</text>
<text x="227.30" y="223.40" font-size="7.2" text-anchor="start" textLength="4.00" lengthAdjust="spacingAndGlyphs">0</text>
<path d="M236.10,215.90l5.4,5.4M241.50,215.90l-5.4,5.4" stroke="#000" stroke-width="0.7"/>
<text x="245.10" y="221.80" font-size="10.2" text-anchor="start" textLength="23.60" lengthAdjust="spacingAndGlyphs">0.001</text>
<path d="M197.60,233.60h10.4M206.50,238.40L210.70,228.60" stroke="#d7191c" stroke-width="1.7" fill="none"/>
<path d="M212.70,233.60h1.6m2.1,0h1.6" stroke="#d7191c" stroke-width="1.7"/>
<path d="M197.60,249.35h10.4M206.50,254.15L210.70,244.35" stroke="#fdae61" stroke-width="1.7" fill="none"/>
<path d="M212.70,249.35h1.6m2.1,0h1.6" stroke="#fdae61" stroke-width="1.7"/>
<path d="M197.60,265.10h10.4M206.50,269.90L210.70,260.10" stroke="#2c7bb6" stroke-width="1.7" fill="none"/>
<path d="M212.70,265.10h1.6m2.1,0h1.6" stroke="#2c7bb6" stroke-width="1.7"/>
<text x="227.30" y="237.60" font-size="11.2" text-anchor="start" font-style="italic" textLength="3.60" lengthAdjust="spacingAndGlyphs">t</text>
<text x="231.40" y="239.70" font-size="7.2" text-anchor="start" font-style="italic" textLength="4.40" lengthAdjust="spacingAndGlyphs">d</text>
<path d="M240.50,233.50h7.2M240.50,235.50h7.2" stroke="#000" stroke-width="0.7"/>
<text x="250.50" y="237.60" font-size="11.2" text-anchor="start" textLength="5.30" lengthAdjust="spacingAndGlyphs">0</text>
<text x="227.30" y="253.35" font-size="11.2" text-anchor="start" font-style="italic" textLength="3.60" lengthAdjust="spacingAndGlyphs">t</text>
<text x="231.40" y="255.45" font-size="7.2" text-anchor="start" font-style="italic" textLength="4.40" lengthAdjust="spacingAndGlyphs">d</text>
<path d="M240.50,249.50h7.2M240.50,251.50h7.2" stroke="#000" stroke-width="0.7"/>
<text x="249.80" y="253.35" font-size="11.2" text-anchor="start" font-style="italic" textLength="6.80" lengthAdjust="spacingAndGlyphs">T</text>
<text x="257.20" y="253.75" font-size="13.0" text-anchor="start" font-style="italic" textLength="5.40" lengthAdjust="spacingAndGlyphs">/</text>
<text x="263.30" y="253.35" font-size="11.2" text-anchor="start" textLength="5.20" lengthAdjust="spacingAndGlyphs">4</text>
<text x="227.30" y="269.10" font-size="11.2" text-anchor="start" font-style="italic" textLength="3.60" lengthAdjust="spacingAndGlyphs">t</text>
<text x="231.40" y="271.20" font-size="7.2" text-anchor="start" font-style="italic" textLength="4.40" lengthAdjust="spacingAndGlyphs">d</text>
<path d="M240.50,265.50h7.2M240.50,267.50h7.2" stroke="#000" stroke-width="0.7"/>
<text x="249.80" y="269.10" font-size="11.2" text-anchor="start" font-style="italic" textLength="6.80" lengthAdjust="spacingAndGlyphs">T</text>
<text x="257.20" y="269.50" font-size="13.0" text-anchor="start" font-style="italic" textLength="5.40" lengthAdjust="spacingAndGlyphs">/</text>
<text x="263.30" y="269.10" font-size="11.2" text-anchor="start" textLength="5.20" lengthAdjust="spacingAndGlyphs">2</text>
<clipPath id="cd"><rect x="316.75" y="205.3" width="179.85" height="108.80"/></clipPath>
<g clip-path="url(#cd)">
<path d="M322.1,309.4 L322.8,309.3 L323.5,309.1 L324.2,308.9 L324.9,308.5 L325.6,308.2 L326.2,307.6 L326.9,306.8 L327.6,305.9 L328.3,304.9 L329.0,303.6 L329.7,302.0 L330.4,300.3 L331.1,298.4 L331.8,296.5 L332.5,294.5 L333.2,292.3 L333.9,289.9 L334.5,287.5 L335.2,285.0 L335.9,282.5 L336.6,279.9 L337.3,277.3 L338.0,274.7 L338.7,272.2 L339.4,269.7 L340.1,267.2 L340.8,264.9 L341.5,262.5 L342.1,260.3 L342.8,258.1 L343.5,256.0 L344.2,254.0 L344.9,252.2 L345.6,250.5 L346.3,248.9 L347.0,247.4 L347.7,246.0 L348.4,244.8 L349.1,243.7 L349.8,242.7 L350.4,241.7 L351.1,240.9 L351.8,240.2 L352.5,239.7 L353.2,239.3 L353.9,239.0 L354.6,238.7 L355.3,238.5 L356.0,238.4 L356.7,238.5 L357.4,238.6 L358.0,238.9 L358.7,239.2 L359.4,239.6 L360.1,240.0 L360.8,240.7 L361.5,241.5 L362.2,242.4 L362.9,243.3 L363.6,244.3 L364.3,245.2 L365.0,246.2 L365.6,247.3 L366.3,248.3 L367.0,249.4 L367.7,250.5 L368.4,251.5 L369.1,252.6 L369.8,253.7 L370.5,254.8 L371.2,255.9 L371.9,257.1 L372.6,258.2 L373.3,259.4 L373.9,260.6 L374.6,261.8 L375.3,262.9 L376.0,264.1 L376.7,265.2 L377.4,266.2 L378.1,267.3 L378.8,268.3 L379.5,269.2 L380.2,270.1 L380.9,271.0 L381.5,271.8 L382.2,272.6 L382.9,273.4 L383.6,274.1 L384.3,274.8 L385.0,275.5 L385.7,276.1 L386.4,276.7 L387.1,277.4 L387.8,277.9 L388.5,278.5 L389.2,279.0 L389.8,279.5 L390.5,280.0 L391.2,280.4 L391.9,280.8 L392.6,281.2 L393.3,281.5 L394.0,281.8 L394.7,282.2 L395.4,282.5 L396.1,282.8 L396.8,283.1 L397.4,283.5 L398.1,283.8 L398.8,284.2 L399.5,284.6 L400.2,284.9 L400.9,285.3 L401.6,285.6 L402.3,286.0 L403.0,286.3 L403.7,286.6 L404.4,286.9 L405.1,287.1 L405.7,287.4 L406.4,287.6 L407.1,287.9 L407.8,288.1 L408.5,288.3 L409.2,288.5 L409.9,288.7 L410.6,288.9 L411.3,289.2 L412.0,289.4 L412.7,289.6 L413.3,289.8 L414.0,290.0 L414.7,290.3 L415.4,290.5 L416.1,290.8 L416.8,291.0 L417.5,291.3 L418.2,291.5 L418.9,291.8 L419.6,292.1 L420.3,292.3 L420.9,292.6 L421.6,292.8 L422.3,293.1 L423.0,293.4 L423.7,293.6 L424.4,293.9 L425.1,294.2 L425.8,294.4 L426.5,294.7 L427.2,295.0 L427.9,295.2 L428.6,295.5 L429.2,295.8 L429.9,296.0 L430.6,296.3 L431.3,296.6 L432.0,296.8 L432.7,297.1 L433.4,297.4 L434.1,297.6 L434.8,297.9 L435.5,298.1 L436.2,298.4 L436.8,298.6 L437.5,298.8 L438.2,299.0 L438.9,299.3 L439.6,299.5 L440.3,299.7 L441.0,299.9 L441.7,300.1 L442.4,300.3 L443.1,300.5 L443.8,300.7 L444.5,300.9 L445.1,301.1 L445.8,301.3 L446.5,301.4 L447.2,301.6 L447.9,301.8 L448.6,302.0 L449.3,302.2 L450.0,302.4 L450.7,302.5 L451.4,302.7 L452.1,302.9 L452.7,303.0 L453.4,303.2 L454.1,303.3 L454.8,303.4 L455.5,303.6 L456.2,303.7 L456.9,303.8 L457.6,303.9 L458.3,304.0 L459.0,304.1 L459.7,304.3 L460.4,304.4 L461.0,304.5 L461.7,304.6 L462.4,304.8 L463.1,304.9 L463.8,305.0 L464.5,305.1 L465.2,305.2 L465.9,305.3 L466.6,305.5 L467.3,305.6 L468.0,305.7 L468.6,305.8 L469.3,305.8 L470.0,305.9 L470.7,306.0 L471.4,306.1 L472.1,306.1 L472.8,306.2 L473.5,306.2 L474.2,306.3 L474.9,306.3 L475.6,306.4 L476.2,306.4 L476.9,306.5 L477.6,306.5 L478.3,306.6 L479.0,306.6 L479.7,306.7 L480.4,306.7 L481.1,306.7 L481.8,306.8 L482.5,306.8 L483.2,306.9 L483.9,306.9 L484.5,306.9 L485.2,306.9 L485.9,307.0 L486.6,307.0 L487.3,307.0 L488.0,307.1" fill="none" stroke="#d7191c" stroke-width="1.7" stroke-linejoin="round"/>
<path d="M322.1,309.4 L322.8,309.3 L323.5,309.1 L324.2,308.9 L324.9,308.5 L325.6,308.2 L326.2,307.6 L326.9,306.8 L327.6,305.9 L328.3,304.9 L329.0,303.6 L329.7,302.0 L330.4,300.3 L331.1,298.4 L331.8,296.5 L332.5,294.5 L333.2,292.3 L333.9,289.9 L334.5,287.5 L335.2,285.1 L335.9,282.6 L336.6,280.0 L337.3,277.4 L338.0,274.9 L338.7,272.4 L339.4,270.0 L340.1,267.6 L340.8,265.2 L341.5,263.0 L342.1,260.8 L342.8,258.6 L343.5,256.5 L344.2,254.6 L344.9,252.8 L345.6,251.2 L346.3,249.6 L347.0,248.1 L347.7,246.8 L348.4,245.6 L349.1,244.5 L349.8,243.5 L350.4,242.6 L351.1,241.8 L351.8,241.1 L352.5,240.7 L353.2,240.3 L353.9,240.0 L354.6,239.7 L355.3,239.6 L356.0,239.5 L356.7,239.5 L357.4,239.7 L358.0,239.9 L358.7,240.2 L359.4,240.6 L360.1,241.0 L360.8,241.6 L361.5,242.4 L362.2,243.3 L362.9,244.2 L363.6,245.1 L364.3,246.0 L365.0,247.0 L365.6,248.0 L366.3,249.0 L367.0,250.1 L367.7,251.1 L368.4,252.1 L369.1,253.2 L369.8,254.3 L370.5,255.3 L371.2,256.4 L371.9,257.5 L372.6,258.7 L373.3,259.9 L373.9,261.1 L374.6,262.2 L375.3,263.3 L376.0,264.4 L376.7,265.5 L377.4,266.6 L378.1,267.6 L378.8,268.6 L379.5,269.5 L380.2,270.4 L380.9,271.2 L381.5,272.1 L382.2,272.8 L382.9,273.6 L383.6,274.3 L384.3,275.0 L385.0,275.6 L385.7,276.3 L386.4,276.9 L387.1,277.5 L387.8,278.1 L388.5,278.6 L389.2,279.2 L389.8,279.7 L390.5,280.1 L391.2,280.6 L391.9,281.0 L392.6,281.4 L393.3,281.7 L394.0,282.1 L394.7,282.4 L395.4,282.7 L396.1,283.1 L396.8,283.4 L397.4,283.8 L398.1,284.2 L398.8,284.5 L399.5,284.9 L400.2,285.3 L400.9,285.7 L401.6,286.1 L402.3,286.4 L403.0,286.8 L403.7,287.1 L404.4,287.4 L405.1,287.7 L405.7,288.0 L406.4,288.3 L407.1,288.6 L407.8,288.8 L408.5,289.1 L409.2,289.4 L409.9,289.6 L410.6,289.9 L411.3,290.2 L412.0,290.4 L412.7,290.7 L413.3,290.9 L414.0,291.2 L414.7,291.5 L415.4,291.8 L416.1,292.1 L416.8,292.3 L417.5,292.6 L418.2,292.9 L418.9,293.2 L419.6,293.5 L420.3,293.8 L420.9,294.0 L421.6,294.3 L422.3,294.6 L423.0,294.9 L423.7,295.2 L424.4,295.5 L425.1,295.7 L425.8,296.0 L426.5,296.3 L427.2,296.6 L427.9,296.9 L428.6,297.1 L429.2,297.4 L429.9,297.7 L430.6,297.9 L431.3,298.2 L432.0,298.5 L432.7,298.7 L433.4,299.0 L434.1,299.3 L434.8,299.5 L435.5,299.8 L436.2,300.0 L436.8,300.2 L437.5,300.5 L438.2,300.7 L438.9,300.9 L439.6,301.1 L440.3,301.3 L441.0,301.5 L441.7,301.7 L442.4,301.9 L443.1,302.1 L443.8,302.3 L444.5,302.5 L445.1,302.7 L445.8,302.9 L446.5,303.0 L447.2,303.2 L447.9,303.4 L448.6,303.6 L449.3,303.7 L450.0,303.9 L450.7,304.1 L451.4,304.2 L452.1,304.4 L452.7,304.5 L453.4,304.7 L454.1,304.8 L454.8,304.9 L455.5,305.0 L456.2,305.1 L456.9,305.2 L457.6,305.3 L458.3,305.4 L459.0,305.5 L459.7,305.6 L460.4,305.7 L461.0,305.8 L461.7,305.9 L462.4,306.0 L463.1,306.1 L463.8,306.2 L464.5,306.3 L465.2,306.4 L465.9,306.4 L466.6,306.5 L467.3,306.6 L468.0,306.7 L468.6,306.7 L469.3,306.8 L470.0,306.9 L470.7,306.9 L471.4,307.0 L472.1,307.0 L472.8,307.0 L473.5,307.1 L474.2,307.1 L474.9,307.1 L475.6,307.2 L476.2,307.2 L476.9,307.2 L477.6,307.2 L478.3,307.3 L479.0,307.3 L479.7,307.3 L480.4,307.4 L481.1,307.4 L481.8,307.4 L482.5,307.4 L483.2,307.4 L483.9,307.5 L484.5,307.5 L485.2,307.5 L485.9,307.5 L486.6,307.5 L487.3,307.5 L488.0,307.6" fill="none" stroke="#fdae61" stroke-width="1.7" stroke-linejoin="round"/>
<path d="M322.1,309.4 L322.8,309.3 L323.5,309.1 L324.2,308.9 L324.9,308.5 L325.6,308.2 L326.2,307.6 L326.9,306.8 L327.6,305.9 L328.3,304.9 L329.0,303.6 L329.7,302.0 L330.4,300.3 L331.1,298.4 L331.8,296.5 L332.5,294.5 L333.2,292.3 L333.9,289.9 L334.5,287.5 L335.2,285.1 L335.9,282.6 L336.6,280.1 L337.3,277.6 L338.0,275.0 L338.7,272.6 L339.4,270.2 L340.1,267.9 L340.8,265.6 L341.5,263.4 L342.1,261.2 L342.8,259.1 L343.5,257.1 L344.2,255.2 L344.9,253.4 L345.6,251.8 L346.3,250.3 L347.0,248.8 L347.7,247.5 L348.4,246.4 L349.1,245.4 L349.8,244.4 L350.4,243.5 L351.1,242.8 L351.8,242.1 L352.5,241.7 L353.2,241.4 L353.9,241.1 L354.6,240.8 L355.3,240.6 L356.0,240.5 L356.7,240.6 L357.4,240.7 L358.0,240.9 L358.7,241.2 L359.4,241.5 L360.1,241.9 L360.8,242.5 L361.5,243.3 L362.2,244.2 L362.9,245.0 L363.6,245.9 L364.3,246.8 L365.0,247.7 L365.6,248.7 L366.3,249.7 L367.0,250.7 L367.7,251.7 L368.4,252.7 L369.1,253.8 L369.8,254.8 L370.5,255.9 L371.2,256.9 L371.9,258.0 L372.6,259.1 L373.3,260.3 L373.9,261.5 L374.6,262.6 L375.3,263.7 L376.0,264.8 L376.7,265.9 L377.4,266.9 L378.1,267.9 L378.8,268.9 L379.5,269.8 L380.2,270.7 L380.9,271.5 L381.5,272.3 L382.2,273.0 L382.9,273.8 L383.6,274.5 L384.3,275.1 L385.0,275.8 L385.7,276.4 L386.4,277.0 L387.1,277.7 L387.8,278.2 L388.5,278.8 L389.2,279.3 L389.8,279.8 L390.5,280.3 L391.2,280.7 L391.9,281.2 L392.6,281.5 L393.3,281.9 L394.0,282.3 L394.7,282.6 L395.4,283.0 L396.1,283.3 L396.8,283.7 L397.4,284.1 L398.1,284.5 L398.8,284.9 L399.5,285.3 L400.2,285.7 L400.9,286.1 L401.6,286.5 L402.3,286.9 L403.0,287.2 L403.7,287.6 L404.4,287.9 L405.1,288.3 L405.7,288.6 L406.4,289.0 L407.1,289.3 L407.8,289.6 L408.5,289.9 L409.2,290.2 L409.9,290.5 L410.6,290.9 L411.3,291.2 L412.0,291.5 L412.7,291.8 L413.3,292.1 L414.0,292.4 L414.7,292.7 L415.4,293.0 L416.1,293.3 L416.8,293.6 L417.5,293.9 L418.2,294.3 L418.9,294.6 L419.6,294.9 L420.3,295.2 L420.9,295.5 L421.6,295.8 L422.3,296.1 L423.0,296.4 L423.7,296.7 L424.4,297.0 L425.1,297.3 L425.8,297.6 L426.5,297.9 L427.2,298.2 L427.9,298.5 L428.6,298.8 L429.2,299.0 L429.9,299.3 L430.6,299.6 L431.3,299.8 L432.0,300.1 L432.7,300.4 L433.4,300.6 L434.1,300.9 L434.8,301.1 L435.5,301.4 L436.2,301.6 L436.8,301.9 L437.5,302.1 L438.2,302.3 L438.9,302.5 L439.6,302.7 L440.3,302.9 L441.0,303.1 L441.7,303.3 L442.4,303.5 L443.1,303.7 L443.8,303.9 L444.5,304.1 L445.1,304.3 L445.8,304.4 L446.5,304.6 L447.2,304.8 L447.9,305.0 L448.6,305.1 L449.3,305.3 L450.0,305.5 L450.7,305.6 L451.4,305.7 L452.1,305.9 L452.7,306.0 L453.4,306.1 L454.1,306.3 L454.8,306.4 L455.5,306.5 L456.2,306.5 L456.9,306.6 L457.6,306.7 L458.3,306.8 L459.0,306.9 L459.7,306.9 L460.4,307.0 L461.0,307.1 L461.7,307.2 L462.4,307.2 L463.1,307.3 L463.8,307.4 L464.5,307.4 L465.2,307.5 L465.9,307.5 L466.6,307.6 L467.3,307.6 L468.0,307.7 L468.6,307.7 L469.3,307.8 L470.0,307.8 L470.7,307.8 L471.4,307.8 L472.1,307.9 L472.8,307.9 L473.5,307.9 L474.2,307.9 L474.9,307.9 L475.6,307.9 L476.2,307.9 L476.9,308.0 L477.6,308.0 L478.3,308.0 L479.0,308.0 L479.7,308.0 L480.4,308.0 L481.1,308.0 L481.8,308.0 L482.5,308.0 L483.2,308.0 L483.9,308.0 L484.5,308.0 L485.2,308.0 L485.9,308.1 L486.6,308.1 L487.3,308.1 L488.0,308.1" fill="none" stroke="#2c7bb6" stroke-width="1.7" stroke-linejoin="round"/>
<path d="M322.1,309.4 L322.8,309.4 L323.5,309.3 L324.2,309.1 L324.9,309.0 L325.6,308.7 L326.2,308.5 L326.9,308.3 L327.6,308.0 L328.3,307.6 L329.0,307.2 L329.7,306.6 L330.4,306.0 L331.1,305.4 L331.8,304.7 L332.5,304.0 L333.2,303.3 L333.9,302.6 L334.5,301.9 L335.2,301.1 L335.9,300.5 L336.6,299.8 L337.3,299.0 L338.0,298.3 L338.7,297.5 L339.4,296.7 L340.1,295.9 L340.8,295.0 L341.5,294.2 L342.1,293.4 L342.8,292.6 L343.5,291.8 L344.2,291.0 L344.9,290.2 L345.6,289.5 L346.3,288.8 L347.0,288.0 L347.7,287.3 L348.4,286.6 L349.1,285.8 L349.8,285.0 L350.4,284.1 L351.1,283.2 L351.8,282.0 L352.5,280.8 L353.2,279.4 L353.9,278.0 L354.6,276.7 L355.3,275.4 L356.0,274.1 L356.7,272.9 L357.4,271.6 L358.0,270.3 L358.7,269.1 L359.4,267.9 L360.1,266.6 L360.8,265.4 L361.5,264.2 L362.2,263.0 L362.9,261.9 L363.6,260.7 L364.3,259.6 L365.0,258.5 L365.6,257.4 L366.3,256.4 L367.0,255.3 L367.7,254.3 L368.4,253.2 L369.1,252.2 L369.8,251.2 L370.5,250.1 L371.2,249.1 L371.9,248.0 L372.6,246.9 L373.3,245.9 L373.9,244.8 L374.6,243.7 L375.3,242.6 L376.0,241.6 L376.7,240.6 L377.4,239.6 L378.1,238.7 L378.8,237.8 L379.5,236.9 L380.2,236.1 L380.9,235.2 L381.5,234.4 L382.2,233.6 L382.9,232.9 L383.6,232.1 L384.3,231.4 L385.0,230.8 L385.7,230.1 L386.4,229.6 L387.1,229.1 L387.8,228.6 L388.5,228.1 L389.2,227.7 L389.8,227.2 L390.5,226.8 L391.2,226.4 L391.9,226.1 L392.6,225.8 L393.3,225.5 L394.0,225.2 L394.7,225.1 L395.4,224.9 L396.1,224.8 L396.8,224.6 L397.4,224.5 L398.1,224.4 L398.8,224.3 L399.5,224.2 L400.2,224.1 L400.9,224.0 L401.6,224.0 L402.3,224.0 L403.0,224.0 L403.7,224.0 L404.4,224.1 L405.1,224.2 L405.7,224.3 L406.4,224.5 L407.1,224.7 L407.8,225.0 L408.5,225.2 L409.2,225.4 L409.9,225.7 L410.6,225.9 L411.3,226.2 L412.0,226.5 L412.7,226.9 L413.3,227.3 L414.0,227.7 L414.7,228.2 L415.4,228.7 L416.1,229.2 L416.8,229.8 L417.5,230.3 L418.2,230.9 L418.9,231.5 L419.6,232.1 L420.3,232.6 L420.9,233.2 L421.6,233.9 L422.3,234.5 L423.0,235.2 L423.7,235.9 L424.4,236.7 L425.1,237.4 L425.8,238.2 L426.5,239.0 L427.2,239.8 L427.9,240.6 L428.6,241.5 L429.2,242.3 L429.9,243.2 L430.6,244.0 L431.3,244.9 L432.0,245.8 L432.7,246.7 L433.4,247.5 L434.1,248.4 L434.8,249.2 L435.5,250.1 L436.2,251.0 L436.8,251.9 L437.5,252.8 L438.2,253.7 L438.9,254.6 L439.6,255.6 L440.3,256.5 L441.0,257.4 L441.7,258.4 L442.4,259.3 L443.1,260.3 L443.8,261.2 L444.5,262.2 L445.1,263.1 L445.8,264.1 L446.5,265.0 L447.2,266.0 L447.9,266.9 L448.6,267.9 L449.3,268.9 L450.0,269.9 L450.7,270.8 L451.4,271.8 L452.1,272.7 L452.7,273.7 L453.4,274.5 L454.1,275.4 L454.8,276.2 L455.5,277.0 L456.2,277.8 L456.9,278.6 L457.6,279.3 L458.3,280.1 L459.0,280.8 L459.7,281.5 L460.4,282.2 L461.0,282.9 L461.7,283.6 L462.4,284.3 L463.1,285.0 L463.8,285.7 L464.5,286.4 L465.2,287.1 L465.9,287.9 L466.6,288.6 L467.3,289.3 L468.0,290.0 L468.6,290.7 L469.3,291.3 L470.0,292.0 L470.7,292.7 L471.4,293.3 L472.1,293.9 L472.8,294.5 L473.5,295.1 L474.2,295.7 L474.9,296.3 L475.6,296.9 L476.2,297.4 L476.9,298.0 L477.6,298.5 L478.3,299.0 L479.0,299.6 L479.7,300.1 L480.4,300.5 L481.1,301.0 L481.8,301.5 L482.5,301.9 L483.2,302.3 L483.9,302.8 L484.5,303.2 L485.2,303.6 L485.9,304.0 L486.6,304.4 L487.3,304.8 L488.0,305.1" fill="none" stroke="#2c7bb6" stroke-width="1.7" stroke-linejoin="round" stroke-dasharray="1.6 2.65"/>
</g>
<rect x="411" y="225.8" width="80.0" height="50.2" rx="2" fill="#fff" fill-opacity="0.8" stroke="#cccccc" stroke-width="0.8"/>
<rect x="316.75" y="205.3" width="179.85" height="108.80" fill="none" stroke="#000" stroke-width="1.2"/>
<path d="M322.10,314.1v-3.6M322.10,205.3v3.6M377.40,314.1v-3.6M377.40,205.3v3.6M432.70,314.1v-3.6M432.70,205.3v3.6M488.00,314.1v-3.6M488.00,205.3v3.6M316.75,309.40h3.6M496.6,309.40h-3.6M316.75,261.38h3.6M496.6,261.38h-3.6M316.75,213.35h3.6M496.6,213.35h-3.6" stroke="#000" stroke-width="0.9" fill="none"/>
<text x="308.00" y="326.90" font-size="12.565999999999999" text-anchor="start" textLength="27.99" lengthAdjust="spacingAndGlyphs">0.000</text>
<text x="363.30" y="326.90" font-size="12.565999999999999" text-anchor="start" textLength="27.99" lengthAdjust="spacingAndGlyphs">0.005</text>
<text x="418.60" y="326.90" font-size="12.565999999999999" text-anchor="start" textLength="27.99" lengthAdjust="spacingAndGlyphs">0.010</text>
<text x="473.90" y="326.90" font-size="12.565999999999999" text-anchor="start" textLength="27.99" lengthAdjust="spacingAndGlyphs">0.015</text>
<text x="297.41" y="313.90" font-size="12.565999999999999" text-anchor="start" textLength="15.79" lengthAdjust="spacingAndGlyphs">0.0</text>
<text x="297.41" y="265.88" font-size="12.565999999999999" text-anchor="start" textLength="15.79" lengthAdjust="spacingAndGlyphs">0.5</text>
<text x="297.41" y="217.85" font-size="12.565999999999999" text-anchor="start" textLength="15.79" lengthAdjust="spacingAndGlyphs">1.0</text>
<text x="387.40" y="343.20" font-size="12.8" text-anchor="start" font-style="italic" textLength="7.40" lengthAdjust="spacingAndGlyphs">ϕ</text>
<text x="398.70" y="343.20" font-size="12.8" text-anchor="start" textLength="27.00" lengthAdjust="spacingAndGlyphs">(rad)</text>
<text x="290.20" y="259.50" font-size="12.8" text-anchor="middle" textLength="27.00" lengthAdjust="spacingAndGlyphs" transform="rotate(-90 290.2 259.5)">DDP</text>
<text x="326.20" y="222.30" font-size="10.8" text-anchor="start" textLength="12.80" lengthAdjust="spacingAndGlyphs">(d)</text>
<path d="M318.00,195.50l5.70,5.70M323.70,195.50l-5.70,5.70" stroke="#000" stroke-width="0.8"/>
<text x="326.90" y="201.60" font-size="12.2" text-anchor="start" textLength="11.60" lengthAdjust="spacingAndGlyphs">10</text>
<rect x="339.50" y="193.95" width="5.40" height="0.7" fill="#000"/>
<text x="346.00" y="196.80" font-size="8.6" text-anchor="start" textLength="4.20" lengthAdjust="spacingAndGlyphs">6</text>
<text x="359.20" y="221.60" font-size="10.6" text-anchor="start" font-style="italic" textLength="5.40" lengthAdjust="spacingAndGlyphs">τ</text>
<path d="M368.30,217.50h7.2M368.30,219.50h7.2" stroke="#000" stroke-width="0.7"/>
<text x="379.20" y="221.60" font-size="10.2" text-anchor="start" textLength="16.20" lengthAdjust="spacingAndGlyphs">100</text>
<text x="398.00" y="221.60" font-size="10.4" text-anchor="start" textLength="9.88" lengthAdjust="spacingAndGlyphs">fs,</text>
<text x="410.45" y="221.60" font-size="10.6" text-anchor="start" font-style="italic" textLength="5.00" lengthAdjust="spacingAndGlyphs">σ</text>
<path d="M416.93,222.60h5.8M419.83,222.60v-3.9" stroke="#000" stroke-width="0.6" fill="none"/>
<path d="M427.01,217.50h7.6M427.01,219.50h7.6" stroke="#000" stroke-width="0.7"/>
<text x="439.05" y="221.60" font-size="10.6" text-anchor="start" font-style="italic" textLength="4.90" lengthAdjust="spacingAndGlyphs">k</text>
<text x="444.30" y="223.20" font-size="7.2" text-anchor="start" textLength="4.00" lengthAdjust="spacingAndGlyphs">0</text>
<path d="M453.35,215.70l5.4,5.4M458.75,215.70l-5.4,5.4" stroke="#000" stroke-width="0.7"/>
<text x="462.62" y="221.60" font-size="10.2" text-anchor="start" textLength="23.60" lengthAdjust="spacingAndGlyphs">0.005</text>
<path d="M414.90,234.10h10.4M423.80,238.90L428.00,229.10" stroke="#d7191c" stroke-width="1.7" fill="none"/>
<path d="M430.00,234.10h1.6m2.1,0h1.6" stroke="#d7191c" stroke-width="1.7"/>
<path d="M414.90,249.85h10.4M423.80,254.65L428.00,244.85" stroke="#fdae61" stroke-width="1.7" fill="none"/>
<path d="M430.00,249.85h1.6m2.1,0h1.6" stroke="#fdae61" stroke-width="1.7"/>
<path d="M414.90,265.60h10.4M423.80,270.40L428.00,260.60" stroke="#2c7bb6" stroke-width="1.7" fill="none"/>
<path d="M430.00,265.60h1.6m2.1,0h1.6" stroke="#2c7bb6" stroke-width="1.7"/>
<text x="445.10" y="238.10" font-size="11.2" text-anchor="start" font-style="italic" textLength="3.60" lengthAdjust="spacingAndGlyphs">t</text>
<text x="449.20" y="240.20" font-size="7.2" text-anchor="start" font-style="italic" textLength="4.40" lengthAdjust="spacingAndGlyphs">d</text>
<path d="M458.30,234.50h7.2M458.30,236.50h7.2" stroke="#000" stroke-width="0.7"/>
<text x="468.30" y="238.10" font-size="11.2" text-anchor="start" textLength="5.30" lengthAdjust="spacingAndGlyphs">0</text>
<text x="445.10" y="253.85" font-size="11.2" text-anchor="start" font-style="italic" textLength="3.60" lengthAdjust="spacingAndGlyphs">t</text>
<text x="449.20" y="255.95" font-size="7.2" text-anchor="start" font-style="italic" textLength="4.40" lengthAdjust="spacingAndGlyphs">d</text>
<path d="M458.30,249.50h7.2M458.30,251.50h7.2" stroke="#000" stroke-width="0.7"/>
<text x="467.60" y="253.85" font-size="11.2" text-anchor="start" font-style="italic" textLength="6.80" lengthAdjust="spacingAndGlyphs">T</text>
<text x="475.00" y="254.25" font-size="13.0" text-anchor="start" font-style="italic" textLength="5.40" lengthAdjust="spacingAndGlyphs">/</text>
<text x="481.10" y="253.85" font-size="11.2" text-anchor="start" textLength="5.20" lengthAdjust="spacingAndGlyphs">4</text>
<text x="445.10" y="269.60" font-size="11.2" text-anchor="start" font-style="italic" textLength="3.60" lengthAdjust="spacingAndGlyphs">t</text>
<text x="449.20" y="271.70" font-size="7.2" text-anchor="start" font-style="italic" textLength="4.40" lengthAdjust="spacingAndGlyphs">d</text>
<path d="M458.30,265.50h7.2M458.30,267.50h7.2" stroke="#000" stroke-width="0.7"/>
<text x="467.60" y="269.60" font-size="11.2" text-anchor="start" font-style="italic" textLength="6.80" lengthAdjust="spacingAndGlyphs">T</text>
<text x="475.00" y="270.00" font-size="13.0" text-anchor="start" font-style="italic" textLength="5.40" lengthAdjust="spacingAndGlyphs">/</text>
<text x="481.10" y="269.60" font-size="11.2" text-anchor="start" textLength="5.20" lengthAdjust="spacingAndGlyphs">2</text>
<clipPath id="ce"><rect x="534.45" y="205.3" width="179.25" height="108.80"/></clipPath>
<g clip-path="url(#ce)">
<path d="M539.6,259.9 L540.3,259.9 L541.0,260.1 L541.7,260.4 L542.4,260.8 L543.1,261.3 L543.7,261.9 L544.4,262.6 L545.1,263.4 L545.8,264.2 L546.5,265.2 L547.2,266.2 L547.9,267.3 L548.6,268.4 L549.3,269.6 L550.0,270.9 L550.7,272.2 L551.4,273.5 L552.0,274.9 L552.7,276.3 L553.4,277.8 L554.1,279.2 L554.8,280.7 L555.5,282.2 L556.2,283.7 L556.9,285.2 L557.6,286.6 L558.3,288.1 L559.0,289.5 L559.6,291.0 L560.3,292.3 L561.0,293.7 L561.7,295.0 L562.4,296.3 L563.1,297.5 L563.8,298.7 L564.5,299.9 L565.2,300.9 L565.9,301.9 L566.6,302.9 L567.2,303.8 L567.9,304.6 L568.6,305.3 L569.3,306.0 L570.0,306.6 L570.7,307.1 L571.4,307.5 L572.1,307.9 L572.8,308.2 L573.5,308.4 L574.2,308.5 L574.9,308.5 L575.5,308.5 L576.2,308.3 L576.9,308.1 L577.6,307.8 L578.3,307.5 L579.0,307.1 L579.7,306.6 L580.4,306.0 L581.1,305.4 L581.8,304.7 L582.5,303.9 L583.1,303.1 L583.8,302.2 L584.5,301.2 L585.2,300.3 L585.9,299.2 L586.6,298.1 L587.3,297.0 L588.0,295.9 L588.7,294.7 L589.4,293.5 L590.1,292.2 L590.8,291.0 L591.4,289.7 L592.1,288.4 L592.8,287.1 L593.5,285.8 L594.2,284.5 L594.9,283.2 L595.6,281.9 L596.3,280.6 L597.0,279.3 L597.7,278.0 L598.4,276.7 L599.0,275.5 L599.7,274.2 L600.4,273.0 L601.1,271.8 L601.8,270.7 L602.5,269.6 L603.2,268.5 L603.9,267.4 L604.6,266.4 L605.3,265.4 L606.0,264.4 L606.7,263.5 L607.3,262.6 L608.0,261.8 L608.7,261.0 L609.4,260.2 L610.1,259.5 L610.8,258.8 L611.5,258.2 L612.2,257.6 L612.9,257.0 L613.6,256.5 L614.3,256.0 L614.9,255.5 L615.6,255.1 L616.3,254.7 L617.0,254.4 L617.7,254.1 L618.4,253.8 L619.1,253.6 L619.8,253.4 L620.5,253.2 L621.2,253.1 L621.9,252.9 L622.6,252.9 L623.2,252.8 L623.9,252.7 L624.6,252.7 L625.3,252.7 L626.0,252.7 L626.7,252.8 L627.4,252.8 L628.1,252.9 L628.8,253.0 L629.5,253.1 L630.2,253.2 L630.8,253.3 L631.5,253.4 L632.2,253.6 L632.9,253.7 L633.6,253.9 L634.3,254.0 L635.0,254.2 L635.7,254.4 L636.4,254.5 L637.1,254.7 L637.8,254.9 L638.4,255.1 L639.1,255.2 L639.8,255.4 L640.5,255.6 L641.2,255.7 L641.9,255.9 L642.6,256.1 L643.3,256.2 L644.0,256.4 L644.7,256.6 L645.4,256.7 L646.1,256.9 L646.7,257.0 L647.4,257.2 L648.1,257.3 L648.8,257.4 L649.5,257.6 L650.2,257.7 L650.9,257.8 L651.6,257.9 L652.3,258.0 L653.0,258.1 L653.7,258.2 L654.3,258.3 L655.0,258.4 L655.7,258.5 L656.4,258.6 L657.1,258.7 L657.8,258.8 L658.5,258.8 L659.2,258.9 L659.9,259.0 L660.6,259.0 L661.3,259.1 L662.0,259.1 L662.6,259.2 L663.3,259.2 L664.0,259.3 L664.7,259.3 L665.4,259.4 L666.1,259.4 L666.8,259.4 L667.5,259.5 L668.2,259.5 L668.9,259.5 L669.6,259.6 L670.2,259.6 L670.9,259.6 L671.6,259.6 L672.3,259.6 L673.0,259.7 L673.7,259.7 L674.4,259.7 L675.1,259.7 L675.8,259.7 L676.5,259.7 L677.2,259.7 L677.9,259.7 L678.5,259.8 L679.2,259.8 L679.9,259.8 L680.6,259.8 L681.3,259.8 L682.0,259.8 L682.7,259.8 L683.4,259.8 L684.1,259.8 L684.8,259.8 L685.5,259.8 L686.1,259.8 L686.8,259.8 L687.5,259.8 L688.2,259.8 L688.9,259.8 L689.6,259.8 L690.3,259.8 L691.0,259.8 L691.7,259.8 L692.4,259.8 L693.1,259.8 L693.7,259.8 L694.4,259.8 L695.1,259.8 L695.8,259.8 L696.5,259.8 L697.2,259.8 L697.9,259.8 L698.6,259.8 L699.3,259.8 L700.0,259.8 L700.7,259.8 L701.4,259.8 L702.0,259.8 L702.7,259.8 L703.4,259.8 L704.1,259.8 L704.8,259.8 L705.5,259.8" fill="none" stroke="#d7191c" stroke-width="1.7" stroke-linejoin="round"/>
<path d="M539.6,259.9 L540.3,259.8 L541.0,259.6 L541.7,259.3 L542.4,258.9 L543.1,258.4 L543.7,257.8 L544.4,257.1 L545.1,256.3 L545.8,255.5 L546.5,254.5 L547.2,253.5 L547.9,252.4 L548.6,251.3 L549.3,250.1 L550.0,248.8 L550.7,247.5 L551.4,246.2 L552.0,244.8 L552.7,243.4 L553.4,241.9 L554.1,240.5 L554.8,239.0 L555.5,237.5 L556.2,236.0 L556.9,234.5 L557.6,233.1 L558.3,231.6 L559.0,230.2 L559.6,228.7 L560.3,227.4 L561.0,226.0 L561.7,224.7 L562.4,223.4 L563.1,222.2 L563.8,221.0 L564.5,219.8 L565.2,218.8 L565.9,217.8 L566.6,216.8 L567.2,215.9 L567.9,215.1 L568.6,214.4 L569.3,213.7 L570.0,213.1 L570.7,212.6 L571.4,212.2 L572.1,211.8 L572.8,211.5 L573.5,211.3 L574.2,211.2 L574.9,211.2 L575.5,211.2 L576.2,211.4 L576.9,211.6 L577.6,211.9 L578.3,212.2 L579.0,212.6 L579.7,213.1 L580.4,213.7 L581.1,214.3 L581.8,215.0 L582.5,215.8 L583.1,216.6 L583.8,217.5 L584.5,218.5 L585.2,219.4 L585.9,220.5 L586.6,221.6 L587.3,222.7 L588.0,223.8 L588.7,225.0 L589.4,226.2 L590.1,227.5 L590.8,228.7 L591.4,230.0 L592.1,231.3 L592.8,232.6 L593.5,233.9 L594.2,235.2 L594.9,236.5 L595.6,237.8 L596.3,239.1 L597.0,240.4 L597.7,241.7 L598.4,243.0 L599.0,244.2 L599.7,245.5 L600.4,246.7 L601.1,247.9 L601.8,249.0 L602.5,250.1 L603.2,251.2 L603.9,252.3 L604.6,253.3 L605.3,254.3 L606.0,255.3 L606.7,256.2 L607.3,257.1 L608.0,257.9 L608.7,258.7 L609.4,259.5 L610.1,260.2 L610.8,260.9 L611.5,261.5 L612.2,262.1 L612.9,262.7 L613.6,263.2 L614.3,263.7 L614.9,264.2 L615.6,264.6 L616.3,265.0 L617.0,265.3 L617.7,265.6 L618.4,265.9 L619.1,266.1 L619.8,266.3 L620.5,266.5 L621.2,266.6 L621.9,266.8 L622.6,266.8 L623.2,266.9 L623.9,267.0 L624.6,267.0 L625.3,267.0 L626.0,267.0 L626.7,266.9 L627.4,266.9 L628.1,266.8 L628.8,266.7 L629.5,266.6 L630.2,266.5 L630.8,266.4 L631.5,266.3 L632.2,266.1 L632.9,266.0 L633.6,265.8 L634.3,265.7 L635.0,265.5 L635.7,265.3 L636.4,265.2 L637.1,265.0 L637.8,264.8 L638.4,264.6 L639.1,264.5 L639.8,264.3 L640.5,264.1 L641.2,264.0 L641.9,263.8 L642.6,263.6 L643.3,263.5 L644.0,263.3 L644.7,263.1 L645.4,263.0 L646.1,262.8 L646.7,262.7 L647.4,262.5 L648.1,262.4 L648.8,262.3 L649.5,262.1 L650.2,262.0 L650.9,261.9 L651.6,261.8 L652.3,261.7 L653.0,261.6 L653.7,261.5 L654.3,261.4 L655.0,261.3 L655.7,261.2 L656.4,261.1 L657.1,261.0 L657.8,260.9 L658.5,260.9 L659.2,260.8 L659.9,260.7 L660.6,260.7 L661.3,260.6 L662.0,260.6 L662.6,260.5 L663.3,260.5 L664.0,260.4 L664.7,260.4 L665.4,260.3 L666.1,260.3 L666.8,260.3 L667.5,260.2 L668.2,260.2 L668.9,260.2 L669.6,260.1 L670.2,260.1 L670.9,260.1 L671.6,260.1 L672.3,260.1 L673.0,260.0 L673.7,260.0 L674.4,260.0 L675.1,260.0 L675.8,260.0 L676.5,260.0 L677.2,260.0 L677.9,260.0 L678.5,259.9 L679.2,259.9 L679.9,259.9 L680.6,259.9 L681.3,259.9 L682.0,259.9 L682.7,259.9 L683.4,259.9 L684.1,259.9 L684.8,259.9 L685.5,259.9 L686.1,259.9 L686.8,259.9 L687.5,259.9 L688.2,259.9 L688.9,259.9 L689.6,259.9 L690.3,259.9 L691.0,259.9 L691.7,259.9 L692.4,259.9 L693.1,259.9 L693.7,259.9 L694.4,259.9 L695.1,259.9 L695.8,259.9 L696.5,259.9 L697.2,259.9 L697.9,259.9 L698.6,259.9 L699.3,259.9 L700.0,259.9 L700.7,259.9 L701.4,259.9 L702.0,259.9 L702.7,259.9 L703.4,259.9 L704.1,259.9 L704.8,259.9 L705.5,259.9" fill="none" stroke="#2c7bb6" stroke-width="1.7" stroke-linejoin="round"/>
<path d="M539.6,259.9 L540.3,259.9 L541.0,259.9 L541.7,259.9 L542.4,260.0 L543.1,260.0 L543.7,260.1 L544.4,260.2 L545.1,260.2 L545.8,260.3 L546.5,260.4 L547.2,260.6 L547.9,260.7 L548.6,260.8 L549.3,260.9 L550.0,261.1 L550.7,261.2 L551.4,261.4 L552.0,261.5 L552.7,261.7 L553.4,261.8 L554.1,262.0 L554.8,262.2 L555.5,262.3 L556.2,262.5 L556.9,262.7 L557.6,262.8 L558.3,263.0 L559.0,263.1 L559.6,263.3 L560.3,263.5 L561.0,263.6 L561.7,263.8 L562.4,263.9 L563.1,264.0 L563.8,264.2 L564.5,264.3 L565.2,264.4 L565.9,264.5 L566.6,264.6 L567.2,264.7 L567.9,264.8 L568.6,264.9 L569.3,265.0 L570.0,265.0 L570.7,265.1 L571.4,265.1 L572.1,265.2 L572.8,265.2 L573.5,265.2 L574.2,265.3 L574.9,265.3 L575.5,265.3 L576.2,265.2 L576.9,265.2 L577.6,265.2 L578.3,265.1 L579.0,265.1 L579.7,265.0 L580.4,265.0 L581.1,264.9 L581.8,264.8 L582.5,264.7 L583.1,264.7 L583.8,264.6 L584.5,264.4 L585.2,264.3 L585.9,264.2 L586.6,264.1 L587.3,264.0 L588.0,263.9 L588.7,263.7 L589.4,263.6 L590.1,263.4 L590.8,263.3 L591.4,263.2 L592.1,263.0 L592.8,262.9 L593.5,262.7 L594.2,262.6 L594.9,262.4 L595.6,262.3 L596.3,262.2 L597.0,262.0 L597.7,261.9 L598.4,261.7 L599.0,261.6 L599.7,261.4 L600.4,261.3 L601.1,261.2 L601.8,261.1 L602.5,260.9 L603.2,260.8 L603.9,260.7 L604.6,260.6 L605.3,260.5 L606.0,260.4 L606.7,260.3 L607.3,260.2 L608.0,260.1 L608.7,260.0 L609.4,259.9 L610.1,259.8 L610.8,259.7 L611.5,259.7 L612.2,259.6 L612.9,259.5 L613.6,259.5 L614.3,259.4 L614.9,259.4 L615.6,259.3 L616.3,259.3 L617.0,259.2 L617.7,259.2 L618.4,259.2 L619.1,259.2 L619.8,259.1 L620.5,259.1 L621.2,259.1 L621.9,259.1 L622.6,259.1 L623.2,259.1 L623.9,259.1 L624.6,259.1 L625.3,259.1 L626.0,259.1 L626.7,259.1 L627.4,259.1 L628.1,259.1 L628.8,259.1 L629.5,259.1 L630.2,259.1 L630.8,259.1 L631.5,259.1 L632.2,259.2 L632.9,259.2 L633.6,259.2 L634.3,259.2 L635.0,259.2 L635.7,259.2 L636.4,259.3 L637.1,259.3 L637.8,259.3 L638.4,259.3 L639.1,259.3 L639.8,259.4 L640.5,259.4 L641.2,259.4 L641.9,259.4 L642.6,259.4 L643.3,259.4 L644.0,259.5 L644.7,259.5 L645.4,259.5 L646.1,259.5 L646.7,259.5 L647.4,259.6 L648.1,259.6 L648.8,259.6 L649.5,259.6 L650.2,259.6 L650.9,259.6 L651.6,259.6 L652.3,259.6 L653.0,259.7 L653.7,259.7 L654.3,259.7 L655.0,259.7 L655.7,259.7 L656.4,259.7 L657.1,259.7 L657.8,259.7 L658.5,259.7 L659.2,259.7 L659.9,259.8 L660.6,259.8 L661.3,259.8 L662.0,259.8 L662.6,259.8 L663.3,259.8 L664.0,259.8 L664.7,259.8 L665.4,259.8 L666.1,259.8 L666.8,259.8 L667.5,259.8 L668.2,259.8 L668.9,259.8 L669.6,259.8 L670.2,259.8 L670.9,259.8 L671.6,259.8 L672.3,259.8 L673.0,259.8 L673.7,259.8 L674.4,259.8 L675.1,259.8 L675.8,259.8 L676.5,259.8 L677.2,259.8 L677.9,259.8 L678.5,259.8 L679.2,259.8 L679.9,259.8 L680.6,259.8 L681.3,259.8 L682.0,259.8 L682.7,259.8 L683.4,259.8 L684.1,259.8 L684.8,259.8 L685.5,259.8 L686.1,259.8 L686.8,259.8 L687.5,259.8 L688.2,259.8 L688.9,259.8 L689.6,259.8 L690.3,259.8 L691.0,259.8 L691.7,259.8 L692.4,259.8 L693.1,259.8 L693.7,259.8 L694.4,259.8 L695.1,259.8 L695.8,259.8 L696.5,259.8 L697.2,259.8 L697.9,259.8 L698.6,259.8 L699.3,259.8 L700.0,259.8 L700.7,259.8 L701.4,259.8 L702.0,259.8 L702.7,259.8 L703.4,259.8 L704.1,259.8 L704.8,259.8 L705.5,259.8" fill="none" stroke="#d7191c" stroke-width="1.7" stroke-linejoin="round" stroke-dasharray="1.6 2.65"/>
<path d="M539.6,259.9 L540.3,259.8 L541.0,259.8 L541.7,259.8 L542.4,259.7 L543.1,259.7 L543.7,259.6 L544.4,259.5 L545.1,259.5 L545.8,259.4 L546.5,259.3 L547.2,259.1 L547.9,259.0 L548.6,258.9 L549.3,258.8 L550.0,258.6 L550.7,258.5 L551.4,258.3 L552.0,258.2 L552.7,258.0 L553.4,257.9 L554.1,257.7 L554.8,257.5 L555.5,257.4 L556.2,257.2 L556.9,257.0 L557.6,256.9 L558.3,256.7 L559.0,256.6 L559.6,256.4 L560.3,256.2 L561.0,256.1 L561.7,255.9 L562.4,255.8 L563.1,255.7 L563.8,255.5 L564.5,255.4 L565.2,255.3 L565.9,255.2 L566.6,255.1 L567.2,255.0 L567.9,254.9 L568.6,254.8 L569.3,254.7 L570.0,254.7 L570.7,254.6 L571.4,254.6 L572.1,254.5 L572.8,254.5 L573.5,254.5 L574.2,254.4 L574.9,254.4 L575.5,254.4 L576.2,254.5 L576.9,254.5 L577.6,254.5 L578.3,254.6 L579.0,254.6 L579.7,254.7 L580.4,254.7 L581.1,254.8 L581.8,254.9 L582.5,255.0 L583.1,255.0 L583.8,255.1 L584.5,255.3 L585.2,255.4 L585.9,255.5 L586.6,255.6 L587.3,255.7 L588.0,255.8 L588.7,256.0 L589.4,256.1 L590.1,256.3 L590.8,256.4 L591.4,256.5 L592.1,256.7 L592.8,256.8 L593.5,257.0 L594.2,257.1 L594.9,257.3 L595.6,257.4 L596.3,257.5 L597.0,257.7 L597.7,257.8 L598.4,258.0 L599.0,258.1 L599.7,258.3 L600.4,258.4 L601.1,258.5 L601.8,258.6 L602.5,258.8 L603.2,258.9 L603.9,259.0 L604.6,259.1 L605.3,259.2 L606.0,259.3 L606.7,259.4 L607.3,259.5 L608.0,259.6 L608.7,259.7 L609.4,259.8 L610.1,259.9 L610.8,260.0 L611.5,260.0 L612.2,260.1 L612.9,260.2 L613.6,260.2 L614.3,260.3 L614.9,260.3 L615.6,260.4 L616.3,260.4 L617.0,260.5 L617.7,260.5 L618.4,260.5 L619.1,260.5 L619.8,260.6 L620.5,260.6 L621.2,260.6 L621.9,260.6 L622.6,260.6 L623.2,260.6 L623.9,260.6 L624.6,260.6 L625.3,260.6 L626.0,260.6 L626.7,260.6 L627.4,260.6 L628.1,260.6 L628.8,260.6 L629.5,260.6 L630.2,260.6 L630.8,260.6 L631.5,260.6 L632.2,260.5 L632.9,260.5 L633.6,260.5 L634.3,260.5 L635.0,260.5 L635.7,260.5 L636.4,260.4 L637.1,260.4 L637.8,260.4 L638.4,260.4 L639.1,260.4 L639.8,260.3 L640.5,260.3 L641.2,260.3 L641.9,260.3 L642.6,260.3 L643.3,260.3 L644.0,260.2 L644.7,260.2 L645.4,260.2 L646.1,260.2 L646.7,260.2 L647.4,260.1 L648.1,260.1 L648.8,260.1 L649.5,260.1 L650.2,260.1 L650.9,260.1 L651.6,260.1 L652.3,260.1 L653.0,260.0 L653.7,260.0 L654.3,260.0 L655.0,260.0 L655.7,260.0 L656.4,260.0 L657.1,260.0 L657.8,260.0 L658.5,260.0 L659.2,260.0 L659.9,259.9 L660.6,259.9 L661.3,259.9 L662.0,259.9 L662.6,259.9 L663.3,259.9 L664.0,259.9 L664.7,259.9 L665.4,259.9 L666.1,259.9 L666.8,259.9 L667.5,259.9 L668.2,259.9 L668.9,259.9 L669.6,259.9 L670.2,259.9 L670.9,259.9 L671.6,259.9 L672.3,259.9 L673.0,259.9 L673.7,259.9 L674.4,259.9 L675.1,259.9 L675.8,259.9 L676.5,259.9 L677.2,259.9 L677.9,259.9 L678.5,259.9 L679.2,259.9 L679.9,259.9 L680.6,259.9 L681.3,259.9 L682.0,259.9 L682.7,259.9 L683.4,259.9 L684.1,259.9 L684.8,259.9 L685.5,259.9 L686.1,259.9 L686.8,259.9 L687.5,259.9 L688.2,259.9 L688.9,259.9 L689.6,259.9 L690.3,259.9 L691.0,259.9 L691.7,259.9 L692.4,259.9 L693.1,259.9 L693.7,259.9 L694.4,259.9 L695.1,259.9 L695.8,259.9 L696.5,259.9 L697.2,259.9 L697.9,259.9 L698.6,259.9 L699.3,259.9 L700.0,259.9 L700.7,259.9 L701.4,259.9 L702.0,259.9 L702.7,259.9 L703.4,259.9 L704.1,259.9 L704.8,259.9 L705.5,259.9" fill="none" stroke="#2c7bb6" stroke-width="1.7" stroke-linejoin="round" stroke-dasharray="1.6 2.65"/>
<path d="M539.6,259.4 L540.3,259.4 L541.0,259.6 L541.7,259.9 L542.4,260.3 L543.1,260.8 L543.7,261.4 L544.4,262.1 L545.1,262.9 L545.8,263.7 L546.5,264.7 L547.2,265.7 L547.9,266.8 L548.6,267.9 L549.3,269.1 L550.0,270.4 L550.7,271.7 L551.4,273.0 L552.0,274.4 L552.7,275.8 L553.4,277.3 L554.1,278.7 L554.8,280.2 L555.5,281.7 L556.2,283.2 L556.9,284.7 L557.6,286.1 L558.3,287.6 L559.0,289.0 L559.6,290.5 L560.3,291.8 L561.0,293.2 L561.7,294.5 L562.4,295.8 L563.1,297.0 L563.8,298.2 L564.5,299.4 L565.2,300.4 L565.9,301.4 L566.6,302.4 L567.2,303.3 L567.9,304.1 L568.6,304.8 L569.3,305.5 L570.0,306.1 L570.7,306.6 L571.4,307.0 L572.1,307.4 L572.8,307.7 L573.5,307.9 L574.2,308.0 L574.9,308.0 L575.5,308.0 L576.2,307.8 L576.9,307.6 L577.6,307.3 L578.3,307.0 L579.0,306.6 L579.7,306.1 L580.4,305.5 L581.1,304.9 L581.8,304.2 L582.5,303.4 L583.1,302.6 L583.8,301.7 L584.5,300.7 L585.2,299.8 L585.9,298.7 L586.6,297.6 L587.3,296.5 L588.0,295.4 L588.7,294.2 L589.4,293.0 L590.1,291.7 L590.8,290.5 L591.4,289.2 L592.1,287.9 L592.8,286.6 L593.5,285.3 L594.2,284.0 L594.9,282.7 L595.6,281.4 L596.3,280.1 L597.0,278.8 L597.7,277.5 L598.4,276.2 L599.0,275.0 L599.7,273.7 L600.4,272.5 L601.1,271.3 L601.8,270.2 L602.5,269.1 L603.2,268.0 L603.9,266.9 L604.6,265.9 L605.3,264.9 L606.0,263.9 L606.7,263.0 L607.3,262.1 L608.0,261.3 L608.7,260.5 L609.4,259.7 L610.1,259.0 L610.8,258.3 L611.5,257.7 L612.2,257.1 L612.9,256.5 L613.6,256.0 L614.3,255.5 L614.9,255.0 L615.6,254.6 L616.3,254.2 L617.0,253.9 L617.7,253.6 L618.4,253.3 L619.1,253.1 L619.8,252.9 L620.5,252.7 L621.2,252.6 L621.9,252.4 L622.6,252.4 L623.2,252.3 L623.9,252.2 L624.6,252.2 L625.3,252.2 L626.0,252.2 L626.7,252.3 L627.4,252.3 L628.1,252.4 L628.8,252.5 L629.5,252.6 L630.2,252.7 L630.8,252.8 L631.5,252.9 L632.2,253.1 L632.9,253.2 L633.6,253.4 L634.3,253.5 L635.0,253.7 L635.7,253.9 L636.4,254.0 L637.1,254.2 L637.8,254.4 L638.4,254.6 L639.1,254.7 L639.8,254.9 L640.5,255.1 L641.2,255.2 L641.9,255.4 L642.6,255.6 L643.3,255.7 L644.0,255.9 L644.7,256.1 L645.4,256.2 L646.1,256.4 L646.7,256.5 L647.4,256.7 L648.1,256.8 L648.8,256.9 L649.5,257.1 L650.2,257.2 L650.9,257.3 L651.6,257.4 L652.3,257.5 L653.0,257.6 L653.7,257.7 L654.3,257.8 L655.0,257.9 L655.7,258.0 L656.4,258.1 L657.1,258.2 L657.8,258.3 L658.5,258.3 L659.2,258.4 L659.9,258.5 L660.6,258.5 L661.3,258.6 L662.0,258.6 L662.6,258.7 L663.3,258.7 L664.0,258.8 L664.7,258.8 L665.4,258.9 L666.1,258.9 L666.8,258.9 L667.5,259.0 L668.2,259.0 L668.9,259.0 L669.6,259.1 L670.2,259.1 L670.9,259.1 L671.6,259.1 L672.3,259.1 L673.0,259.2 L673.7,259.2 L674.4,259.2 L675.1,259.2 L675.8,259.2 L676.5,259.2 L677.2,259.2 L677.9,259.2 L678.5,259.3 L679.2,259.3 L679.9,259.3 L680.6,259.3 L681.3,259.3 L682.0,259.3 L682.7,259.3 L683.4,259.3 L684.1,259.3 L684.8,259.3 L685.5,259.3 L686.1,259.3 L686.8,259.3 L687.5,259.3 L688.2,259.3 L688.9,259.3 L689.6,259.3 L690.3,259.3 L691.0,259.3 L691.7,259.3 L692.4,259.3 L693.1,259.3 L693.7,259.3 L694.4,259.3 L695.1,259.3 L695.8,259.3 L696.5,259.3 L697.2,259.3 L697.9,259.3 L698.6,259.3 L699.3,259.3 L700.0,259.3 L700.7,259.3 L701.4,259.3 L702.0,259.3 L702.7,259.3 L703.4,259.3 L704.1,259.3 L704.8,259.3 L705.5,259.3" fill="none" stroke="#000" stroke-width="1.4" stroke-linejoin="round" stroke-dasharray="1.4 1.6"/>
</g>
<path d="M560.3,262.9V285" stroke="#000" stroke-width="1.3"/>
<path d="M558.0,284.2L562.6,284.2L560.3,289.4Z" fill="#000"/>
<path d="M564.1,272.9l4.6,4.6M568.7,272.9l-4.6,4.6" stroke="#000" stroke-width="0.7"/>
<text x="570.30" y="279.20" font-size="10.2" text-anchor="start" textLength="22.40" lengthAdjust="spacingAndGlyphs">ratio</text>
<rect x="572.6" y="210.7" width="136.2" height="30.8" rx="2" fill="#fff" fill-opacity="0.8" stroke="#cccccc" stroke-width="0.8"/>
<rect x="534.45" y="205.3" width="179.25" height="108.80" fill="none" stroke="#000" stroke-width="1.2"/>
<path d="M539.60,314.1v-3.6M539.60,205.3v3.6M594.90,314.1v-3.6M594.90,205.3v3.6M650.20,314.1v-3.6M650.20,205.3v3.6M705.50,314.1v-3.6M705.50,205.3v3.6M534.45,293.20h3.6M713.7,293.20h-3.6M534.45,259.85h3.6M713.7,259.85h-3.6M534.45,226.50h3.6M713.7,226.50h-3.6" stroke="#000" stroke-width="0.9" fill="none"/>
<text x="525.50" y="326.90" font-size="12.565999999999999" text-anchor="start" textLength="27.99" lengthAdjust="spacingAndGlyphs">0.000</text>
<text x="580.80" y="326.90" font-size="12.565999999999999" text-anchor="start" textLength="27.99" lengthAdjust="spacingAndGlyphs">0.005</text>
<text x="636.10" y="326.90" font-size="12.565999999999999" text-anchor="start" textLength="27.99" lengthAdjust="spacingAndGlyphs">0.010</text>
<text x="691.40" y="326.90" font-size="12.565999999999999" text-anchor="start" textLength="27.99" lengthAdjust="spacingAndGlyphs">0.015</text>
<rect x="516.41" y="294.22" width="7.32" height="0.854" fill="#000"/>
<text x="524.60" y="297.70" font-size="12.565999999999999" text-anchor="start" textLength="6.30" lengthAdjust="spacingAndGlyphs">5</text>
<text x="524.60" y="264.35" font-size="12.565999999999999" text-anchor="start" textLength="6.30" lengthAdjust="spacingAndGlyphs">0</text>
<text x="524.60" y="231.00" font-size="12.565999999999999" text-anchor="start" textLength="6.30" lengthAdjust="spacingAndGlyphs">5</text>
<text x="604.90" y="343.20" font-size="12.8" text-anchor="start" font-style="italic" textLength="7.40" lengthAdjust="spacingAndGlyphs">ϕ</text>
<text x="616.20" y="343.20" font-size="12.8" text-anchor="start" textLength="27.00" lengthAdjust="spacingAndGlyphs">(rad)</text>
<text x="543.40" y="222.30" font-size="10.8" text-anchor="start" textLength="12.40" lengthAdjust="spacingAndGlyphs">(e)</text>
<path d="M535.70,195.50l5.70,5.70M541.40,195.50l-5.70,5.70" stroke="#000" stroke-width="0.8"/>
<text x="544.60" y="201.60" font-size="12.2" text-anchor="start" textLength="11.60" lengthAdjust="spacingAndGlyphs">10</text>
<rect x="557.20" y="193.95" width="5.40" height="0.7" fill="#000"/>
<text x="563.70" y="196.80" font-size="8.6" text-anchor="start" textLength="4.20" lengthAdjust="spacingAndGlyphs">6</text>
<path d="M575.10,218.20h10.4M584.00,223.00L588.20,213.20" stroke="#d7191c" stroke-width="1.7" fill="none"/>
<path d="M590.80,218.20h1.6m2.1,0h1.6" stroke="#d7191c" stroke-width="1.7"/>
<path d="M575.10,232.80h10.4M584.00,237.60L588.20,227.80" stroke="#2c7bb6" stroke-width="1.7" fill="none"/>
<path d="M590.80,232.80h1.6m2.1,0h1.6" stroke="#2c7bb6" stroke-width="1.7"/>
<text x="602.90" y="222.00" font-size="10.3" text-anchor="start" textLength="89.60" lengthAdjust="spacingAndGlyphs">DDP(0) - DDP(<tspan font-style="italic">T</tspan>/4)</text>
<text x="602.90" y="236.60" font-size="10.3" text-anchor="start" textLength="102.10" lengthAdjust="spacingAndGlyphs">DDP(<tspan font-style="italic">T</tspan>/2) - DDP(<tspan font-style="italic">T</tspan>/4)</text>
</svg>
</body></html>
